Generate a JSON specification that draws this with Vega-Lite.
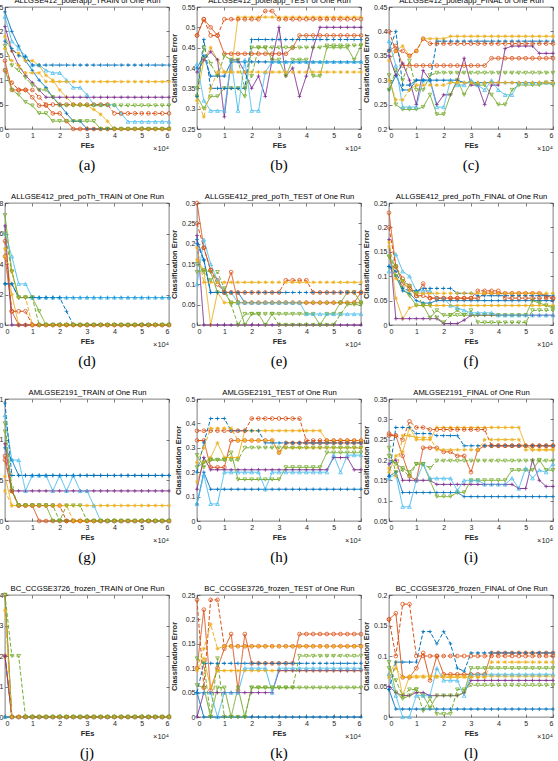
{
"$schema":"https://vega.github.io/schema/vega-lite/v6.json",
"padding":{"left":-22,"top":-4,"right":0,"bottom":0},
"background":"white",
"columns":3,
"spacing":{"row":74,"column":28},
"bounds":"flush",
"config":{
"font":"Liberation Sans",
"view":{"stroke":"#262626","strokeWidth":0.6},
"axis":{"domain":false,"grid":false,"ticks":true,"tickSize":-3,"tickColor":"#262626","tickWidth":0.6,"labelFont":"Liberation Sans","labelFontSize":7,"labelColor":"#262626","labelPadding":5,"titleFont":"Liberation Sans","titleFontSize":7.5,"titleFontWeight":"bold","titleColor":"#262626","titlePadding":3},
"axisTop":{"labels":false,"titleFontWeight":"normal","titleFontSize":7.7,"titleColor":"#000000","titlePadding":2},
"axisRight":{"labels":false},
"title":{"font":"Liberation Serif","fontSize":15,"fontWeight":"normal","color":"#000000","orient":"bottom","offset":5}
},
"datasets":{"d":[
{"p":"a","x":0,"s1":0.24,"s2":0.14,"s3":0.19,"s4":0.21,"s5":0.12,"s6":0.23,"s7":0.18,"s8":0.12,"s9":0.165,"s10":0.17},
{"p":"a","x":0.25,"s1":0.2,"s2":0.08,"s3":0.16,"s4":0.16,"s5":0.08,"s6":0.18,"s7":0.165,"s8":0.095,"s9":0.14,"s10":0.13},
{"p":"a","x":0.5,"s1":0.17,"s2":0.08,"s3":0.155,"s4":0.13,"s5":0.07,"s6":0.165,"s7":0.15,"s8":0.08,"s9":0.13,"s10":0.12},
{"p":"a","x":0.75,"s1":0.14,"s2":0.08,"s3":0.14,"s4":0.11,"s5":0.055,"s6":0.15,"s7":0.148,"s8":0.08,"s9":0.115,"s10":0.105},
{"p":"a","x":1,"s1":0.12,"s2":0.065,"s3":0.14,"s4":0.095,"s5":0.048,"s6":0.131,"s7":0.131,"s8":0.08,"s9":0.115,"s10":0.09},
{"p":"a","x":1.25,"s1":0.1,"s2":0.048,"s3":0.13,"s4":0.08,"s5":0.032,"s6":0.131,"s7":0.131,"s8":0.065,"s9":0.115,"s10":0.08},
{"p":"a","x":1.5,"s1":0.085,"s2":0.048,"s3":0.11,"s4":0.065,"s5":0.032,"s6":0.12,"s7":0.131,"s8":0.05,"s9":0.097,"s10":0.08},
{"p":"a","x":1.75,"s1":0.065,"s2":0.032,"s3":0.1,"s4":0.065,"s5":0.016,"s6":0.115,"s7":0.131,"s8":0.05,"s9":0.097,"s10":0.065},
{"p":"a","x":2,"s1":0.05,"s2":0.032,"s3":0.08,"s4":0.065,"s5":0.016,"s6":0.115,"s7":0.131,"s8":0.05,"s9":0.097,"s10":0.048},
{"p":"a","x":2.25,"s1":0.032,"s2":0.016,"s3":0.065,"s4":0.065,"s5":0.016,"s6":0.1,"s7":0.131,"s8":0.05,"s9":0.097,"s10":0.048},
{"p":"a","x":2.5,"s1":0.016,"s2":0,"s3":0.05,"s4":0.065,"s5":0.016,"s6":0.085,"s7":0.131,"s8":0.05,"s9":0.097,"s10":0.048},
{"p":"a","x":2.75,"s1":0.016,"s2":0,"s3":0.05,"s4":0.065,"s5":0.016,"s6":0.085,"s7":0.131,"s8":0.05,"s9":0.097,"s10":0.048},
{"p":"a","x":3,"s1":0,"s2":0,"s3":0.048,"s4":0.065,"s5":0.016,"s6":0.07,"s7":0.131,"s8":0.05,"s9":0.097,"s10":0.048},
{"p":"a","x":3.25,"s1":0,"s2":0,"s3":0.04,"s4":0.065,"s5":0.016,"s6":0.05,"s7":0.131,"s8":0.05,"s9":0.097,"s10":0.048},
{"p":"a","x":3.5,"s1":0,"s2":0,"s3":0.03,"s4":0.065,"s5":0,"s6":0.05,"s7":0.131,"s8":0.05,"s9":0.097,"s10":0.048},
{"p":"a","x":3.75,"s1":0,"s2":0,"s3":0.016,"s4":0.065,"s5":0,"s6":0.05,"s7":0.131,"s8":0.05,"s9":0.097,"s10":0.048},
{"p":"a","x":4,"s1":0,"s2":0,"s3":0,"s4":0.065,"s5":0,"s6":0.05,"s7":0.131,"s8":0.032,"s9":0.097,"s10":0.048},
{"p":"a","x":4.25,"s1":0,"s2":0,"s3":0,"s4":0.065,"s5":0,"s6":0.032,"s7":0.131,"s8":0.032,"s9":0.097,"s10":0.048},
{"p":"a","x":4.5,"s1":0,"s2":0,"s3":0,"s4":0.065,"s5":0,"s6":0.015,"s7":0.131,"s8":0.032,"s9":0.097,"s10":0.048},
{"p":"a","x":4.75,"s1":0,"s2":0,"s3":0,"s4":0.065,"s5":0,"s6":0.015,"s7":0.131,"s8":0.032,"s9":0.097,"s10":0.048},
{"p":"a","x":5,"s1":0,"s2":0,"s3":0,"s4":0.065,"s5":0,"s6":0.015,"s7":0.131,"s8":0.032,"s9":0.097,"s10":0.048},
{"p":"a","x":5.25,"s1":0,"s2":0,"s3":0,"s4":0.065,"s5":0,"s6":0.015,"s7":0.131,"s8":0.032,"s9":0.097,"s10":0.048},
{"p":"a","x":5.5,"s1":0,"s2":0,"s3":0,"s4":0.065,"s5":0,"s6":0.015,"s7":0.131,"s8":0.032,"s9":0.097,"s10":0.048},
{"p":"a","x":5.75,"s1":0,"s2":0,"s3":0,"s4":0.065,"s5":0,"s6":0.015,"s7":0.131,"s8":0.032,"s9":0.097,"s10":0.048},
{"p":"a","x":6,"s1":0,"s2":0,"s3":0,"s4":0.065,"s5":0,"s6":0.015,"s7":0.131,"s8":0.032,"s9":0.097,"s10":0.048},

{"p":"b","x":0,"s1":0.4,"s2":0.48,"s3":0.33,"s4":0.39,"s5":0.33,"s6":0.41,"s7":0.33,"s8":0.48,"s9":0.32,"s10":0.35},
{"p":"b","x":0.25,"s1":0.43,"s2":0.52,"s3":0.42,"s4":0.42,"s5":0.3,"s6":0.32,"s7":0.47,"s8":0.52,"s9":0.28,"s10":0.45},
{"p":"b","x":0.5,"s1":0.38,"s2":0.5,"s3":0.45,"s4":0.44,"s5":0.33,"s6":0.295,"s7":0.35,"s8":0.48,"s9":0.35,"s10":0.41},
{"p":"b","x":0.75,"s1":0.38,"s2":0.48,"s3":0.42,"s4":0.42,"s5":0.33,"s6":0.295,"s7":0.35,"s8":0.48,"s9":0.39,"s10":0.38},
{"p":"b","x":1,"s1":0.38,"s2":0.435,"s3":0.39,"s4":0.28,"s5":0.35,"s6":0.295,"s7":0.35,"s8":0.52,"s9":0.39,"s10":0.43},
{"p":"b","x":1.25,"s1":0.415,"s2":0.435,"s3":0.39,"s4":0.42,"s5":0.35,"s6":0.42,"s7":0.35,"s8":0.52,"s9":0.39,"s10":0.42},
{"p":"b","x":1.5,"s1":0.415,"s2":0.435,"s3":0.525,"s4":0.42,"s5":0.35,"s6":0.295,"s7":0.35,"s8":0.52,"s9":0.39,"s10":0.42},
{"p":"b","x":1.75,"s1":0.415,"s2":0.435,"s3":0.525,"s4":0.39,"s5":0.33,"s6":0.42,"s7":0.35,"s8":0.52,"s9":0.39,"s10":0.35},
{"p":"b","x":2,"s1":0.415,"s2":0.435,"s3":0.525,"s4":0.35,"s5":0.45,"s6":0.295,"s7":0.47,"s8":0.52,"s9":0.39,"s10":0.38},
{"p":"b","x":2.25,"s1":0.415,"s2":0.435,"s3":0.525,"s4":0.38,"s5":0.45,"s6":0.295,"s7":0.47,"s8":0.52,"s9":0.39,"s10":0.45},
{"p":"b","x":2.5,"s1":0.415,"s2":0.435,"s3":0.525,"s4":0.33,"s5":0.45,"s6":0.39,"s7":0.47,"s8":0.54,"s9":0.39,"s10":0.45},
{"p":"b","x":2.75,"s1":0.415,"s2":0.435,"s3":0.525,"s4":0.42,"s5":0.42,"s6":0.415,"s7":0.47,"s8":0.54,"s9":0.39,"s10":0.45},
{"p":"b","x":3,"s1":0.415,"s2":0.435,"s3":0.525,"s4":0.5,"s5":0.42,"s6":0.415,"s7":0.47,"s8":0.52,"s9":0.39,"s10":0.45},
{"p":"b","x":3.25,"s1":0.415,"s2":0.435,"s3":0.525,"s4":0.38,"s5":0.38,"s6":0.415,"s7":0.47,"s8":0.52,"s9":0.39,"s10":0.45},
{"p":"b","x":3.5,"s1":0.415,"s2":0.45,"s3":0.525,"s4":0.4,"s5":0.42,"s6":0.415,"s7":0.47,"s8":0.52,"s9":0.39,"s10":0.45},
{"p":"b","x":3.75,"s1":0.415,"s2":0.48,"s3":0.525,"s4":0.33,"s5":0.42,"s6":0.415,"s7":0.47,"s8":0.52,"s9":0.39,"s10":0.45},
{"p":"b","x":4,"s1":0.415,"s2":0.48,"s3":0.525,"s4":0.38,"s5":0.42,"s6":0.415,"s7":0.47,"s8":0.52,"s9":0.39,"s10":0.45},
{"p":"b","x":4.25,"s1":0.415,"s2":0.48,"s3":0.525,"s4":0.45,"s5":0.38,"s6":0.415,"s7":0.47,"s8":0.52,"s9":0.39,"s10":0.45},
{"p":"b","x":4.5,"s1":0.415,"s2":0.48,"s3":0.525,"s4":0.5,"s5":0.38,"s6":0.415,"s7":0.47,"s8":0.52,"s9":0.39,"s10":0.45},
{"p":"b","x":4.75,"s1":0.415,"s2":0.48,"s3":0.525,"s4":0.5,"s5":0.45,"s6":0.415,"s7":0.47,"s8":0.52,"s9":0.39,"s10":0.455},
{"p":"b","x":5,"s1":0.415,"s2":0.48,"s3":0.525,"s4":0.5,"s5":0.45,"s6":0.415,"s7":0.47,"s8":0.52,"s9":0.39,"s10":0.455},
{"p":"b","x":5.25,"s1":0.415,"s2":0.48,"s3":0.525,"s4":0.5,"s5":0.45,"s6":0.415,"s7":0.47,"s8":0.52,"s9":0.39,"s10":0.455},
{"p":"b","x":5.5,"s1":0.415,"s2":0.48,"s3":0.525,"s4":0.5,"s5":0.45,"s6":0.415,"s7":0.47,"s8":0.52,"s9":0.39,"s10":0.455},
{"p":"b","x":5.75,"s1":0.415,"s2":0.48,"s3":0.525,"s4":0.5,"s5":0.42,"s6":0.415,"s7":0.47,"s8":0.52,"s9":0.39,"s10":0.455},
{"p":"b","x":6,"s1":0.415,"s2":0.48,"s3":0.525,"s4":0.5,"s5":0.455,"s6":0.415,"s7":0.47,"s8":0.52,"s9":0.39,"s10":0.455},

{"p":"c","x":0,"s1":0.28,"s2":0.36,"s3":0.34,"s4":0.35,"s5":0.31,"s6":0.38,"s7":0.36,"s8":0.4,"s9":0.3,"s10":0.28},
{"p":"c","x":0.25,"s1":0.31,"s2":0.37,"s3":0.36,"s4":0.31,"s5":0.25,"s6":0.33,"s7":0.4,"s8":0.36,"s9":0.26,"s10":0.32},
{"p":"c","x":0.5,"s1":0.28,"s2":0.33,"s3":0.37,"s4":0.335,"s5":0.24,"s6":0.245,"s7":0.29,"s8":0.36,"s9":0.26,"s10":0.3},
{"p":"c","x":0.75,"s1":0.28,"s2":0.33,"s3":0.35,"s4":0.3,"s5":0.24,"s6":0.245,"s7":0.29,"s8":0.35,"s9":0.28,"s10":0.34},
{"p":"c","x":1,"s1":0.3,"s2":0.33,"s3":0.36,"s4":0.25,"s5":0.24,"s6":0.245,"s7":0.3,"s8":0.36,"s9":0.29,"s10":0.28},
{"p":"c","x":1.25,"s1":0.3,"s2":0.33,"s3":0.385,"s4":0.32,"s5":0.245,"s6":0.3,"s7":0.3,"s8":0.385,"s9":0.29,"s10":0.28},
{"p":"c","x":1.5,"s1":0.3,"s2":0.33,"s3":0.385,"s4":0.3,"s5":0.27,"s6":0.3,"s7":0.3,"s8":0.375,"s9":0.29,"s10":0.31},
{"p":"c","x":1.75,"s1":0.3,"s2":0.33,"s3":0.385,"s4":0.25,"s5":0.23,"s6":0.245,"s7":0.38,"s8":0.375,"s9":0.29,"s10":0.315},
{"p":"c","x":2,"s1":0.3,"s2":0.33,"s3":0.385,"s4":0.27,"s5":0.23,"s6":0.245,"s7":0.38,"s8":0.375,"s9":0.29,"s10":0.315},
{"p":"c","x":2.25,"s1":0.3,"s2":0.33,"s3":0.39,"s4":0.27,"s5":0.27,"s6":0.3,"s7":0.38,"s8":0.375,"s9":0.295,"s10":0.315},
{"p":"c","x":2.5,"s1":0.3,"s2":0.33,"s3":0.39,"s4":0.3,"s5":0.3,"s6":0.29,"s7":0.38,"s8":0.375,"s9":0.295,"s10":0.315},
{"p":"c","x":2.75,"s1":0.295,"s2":0.33,"s3":0.39,"s4":0.345,"s5":0.27,"s6":0.29,"s7":0.38,"s8":0.375,"s9":0.295,"s10":0.315},
{"p":"c","x":3,"s1":0.295,"s2":0.33,"s3":0.39,"s4":0.29,"s5":0.295,"s6":0.3,"s7":0.38,"s8":0.375,"s9":0.295,"s10":0.315},
{"p":"c","x":3.25,"s1":0.295,"s2":0.33,"s3":0.39,"s4":0.29,"s5":0.29,"s6":0.29,"s7":0.38,"s8":0.375,"s9":0.295,"s10":0.315},
{"p":"c","x":3.5,"s1":0.295,"s2":0.33,"s3":0.39,"s4":0.25,"s5":0.29,"s6":0.28,"s7":0.38,"s8":0.375,"s9":0.295,"s10":0.315},
{"p":"c","x":3.75,"s1":0.295,"s2":0.345,"s3":0.39,"s4":0.29,"s5":0.27,"s6":0.3,"s7":0.38,"s8":0.375,"s9":0.295,"s10":0.315},
{"p":"c","x":4,"s1":0.295,"s2":0.345,"s3":0.39,"s4":0.29,"s5":0.25,"s6":0.28,"s7":0.38,"s8":0.375,"s9":0.295,"s10":0.315},
{"p":"c","x":4.25,"s1":0.295,"s2":0.345,"s3":0.39,"s4":0.365,"s5":0.25,"s6":0.27,"s7":0.38,"s8":0.375,"s9":0.295,"s10":0.315},
{"p":"c","x":4.5,"s1":0.295,"s2":0.345,"s3":0.39,"s4":0.37,"s5":0.28,"s6":0.27,"s7":0.38,"s8":0.375,"s9":0.295,"s10":0.315},
{"p":"c","x":4.75,"s1":0.295,"s2":0.345,"s3":0.39,"s4":0.37,"s5":0.29,"s6":0.295,"s7":0.38,"s8":0.375,"s9":0.295,"s10":0.315},
{"p":"c","x":5,"s1":0.295,"s2":0.345,"s3":0.39,"s4":0.37,"s5":0.29,"s6":0.295,"s7":0.38,"s8":0.375,"s9":0.295,"s10":0.315},
{"p":"c","x":5.25,"s1":0.295,"s2":0.345,"s3":0.39,"s4":0.37,"s5":0.29,"s6":0.295,"s7":0.38,"s8":0.375,"s9":0.295,"s10":0.315},
{"p":"c","x":5.5,"s1":0.295,"s2":0.345,"s3":0.39,"s4":0.355,"s5":0.29,"s6":0.295,"s7":0.38,"s8":0.375,"s9":0.295,"s10":0.315},
{"p":"c","x":5.75,"s1":0.295,"s2":0.345,"s3":0.39,"s4":0.355,"s5":0.295,"s6":0.295,"s7":0.38,"s8":0.375,"s9":0.295,"s10":0.315},
{"p":"c","x":6,"s1":0.295,"s2":0.345,"s3":0.39,"s4":0.355,"s5":0.29,"s6":0.295,"s7":0.38,"s8":0.375,"s9":0.295,"s10":0.315},

{"p":"d","x":0,"s1":0.027,"s2":0.045,"s3":0.05,"s4":0.065,"s5":0.072,"s6":0.06,"s7":0.027,"s8":0.055,"s9":0.045,"s10":0.06},
{"p":"d","x":0.25,"s1":0.027,"s2":0.009,"s3":0.02,"s4":0,"s5":0.035,"s6":0.045,"s7":0.027,"s8":0.009,"s9":0.035,"s10":0.035},
{"p":"d","x":0.5,"s1":0.018,"s2":0,"s3":0,"s4":0,"s5":0.018,"s6":0.027,"s7":0.018,"s8":0.009,"s9":0.018,"s10":0.018},
{"p":"d","x":0.75,"s1":0.018,"s2":0,"s3":0,"s4":0,"s5":0.018,"s6":0.027,"s7":0.018,"s8":0.009,"s9":0.018,"s10":0.018},
{"p":"d","x":1,"s1":0.018,"s2":0,"s3":0,"s4":0,"s5":0.018,"s6":0.018,"s7":0.018,"s8":0,"s9":0,"s10":0.018},
{"p":"d","x":1.25,"s1":0.018,"s2":0,"s3":0,"s4":0,"s5":0.009,"s6":0.018,"s7":0.018,"s8":0,"s9":0,"s10":0},
{"p":"d","x":1.5,"s1":0.018,"s2":0,"s3":0,"s4":0,"s5":0,"s6":0.018,"s7":0.018,"s8":0,"s9":0,"s10":0},
{"p":"d","x":1.75,"s1":0.018,"s2":0,"s3":0,"s4":0,"s5":0,"s6":0.018,"s7":0.018,"s8":0,"s9":0,"s10":0},
{"p":"d","x":2,"s1":0.018,"s2":0,"s3":0,"s4":0,"s5":0,"s6":0.018,"s7":0.018,"s8":0,"s9":0,"s10":0},
{"p":"d","x":2.25,"s1":0.018,"s2":0,"s3":0,"s4":0,"s5":0,"s6":0.018,"s7":0.009,"s8":0,"s9":0,"s10":0},
{"p":"d","x":2.5,"s1":0.018,"s2":0,"s3":0,"s4":0,"s5":0,"s6":0.018,"s7":0,"s8":0,"s9":0,"s10":0},
{"p":"d","x":2.75,"s1":0.018,"s2":0,"s3":0,"s4":0,"s5":0,"s6":0.018,"s7":0,"s8":0,"s9":0,"s10":0},
{"p":"d","x":3,"s1":0.018,"s2":0,"s3":0,"s4":0,"s5":0,"s6":0.018,"s7":0,"s8":0,"s9":0,"s10":0},
{"p":"d","x":3.25,"s1":0.018,"s2":0,"s3":0,"s4":0,"s5":0,"s6":0.018,"s7":0,"s8":0,"s9":0,"s10":0},
{"p":"d","x":3.5,"s1":0.018,"s2":0,"s3":0,"s4":0,"s5":0,"s6":0.018,"s7":0,"s8":0,"s9":0,"s10":0},
{"p":"d","x":3.75,"s1":0.018,"s2":0,"s3":0,"s4":0,"s5":0,"s6":0.018,"s7":0,"s8":0,"s9":0,"s10":0},
{"p":"d","x":4,"s1":0.018,"s2":0,"s3":0,"s4":0,"s5":0,"s6":0.018,"s7":0,"s8":0,"s9":0,"s10":0},
{"p":"d","x":4.25,"s1":0.018,"s2":0,"s3":0,"s4":0,"s5":0,"s6":0.018,"s7":0,"s8":0,"s9":0,"s10":0},
{"p":"d","x":4.5,"s1":0.018,"s2":0,"s3":0,"s4":0,"s5":0,"s6":0.018,"s7":0,"s8":0,"s9":0,"s10":0},
{"p":"d","x":4.75,"s1":0.018,"s2":0,"s3":0,"s4":0,"s5":0,"s6":0.018,"s7":0,"s8":0,"s9":0,"s10":0},
{"p":"d","x":5,"s1":0.018,"s2":0,"s3":0,"s4":0,"s5":0,"s6":0.018,"s7":0,"s8":0,"s9":0,"s10":0},
{"p":"d","x":5.25,"s1":0.018,"s2":0,"s3":0,"s4":0,"s5":0,"s6":0.018,"s7":0,"s8":0,"s9":0,"s10":0},
{"p":"d","x":5.5,"s1":0.018,"s2":0,"s3":0,"s4":0,"s5":0,"s6":0.018,"s7":0,"s8":0,"s9":0,"s10":0},
{"p":"d","x":5.75,"s1":0.018,"s2":0,"s3":0,"s4":0,"s5":0,"s6":0.018,"s7":0,"s8":0,"s9":0,"s10":0},
{"p":"d","x":6,"s1":0.018,"s2":0,"s3":0,"s4":0,"s5":0,"s6":0.018,"s7":0,"s8":0,"s9":0,"s10":0},

{"p":"e","x":0,"s1":0.21,"s2":0.3,"s3":0.16,"s4":0.22,"s5":0.13,"s6":0.1,"s7":0.2,"s8":0.25,"s9":0.19,"s10":0.15},
{"p":"e","x":0.25,"s1":0.16,"s2":0.19,"s3":0.135,"s4":0,"s5":0.135,"s6":0.21,"s7":0.16,"s8":0.19,"s9":0.105,"s10":0.13},
{"p":"e","x":0.5,"s1":0.08,"s2":0.135,"s3":0,"s4":0,"s5":0.13,"s6":0.15,"s7":0.08,"s8":0.135,"s9":0.105,"s10":0.11},
{"p":"e","x":0.75,"s1":0.08,"s2":0.11,"s3":0.08,"s4":0,"s5":0.08,"s6":0.11,"s7":0.08,"s8":0.1,"s9":0.105,"s10":0.13},
{"p":"e","x":1,"s1":0.08,"s2":0.08,"s3":0.055,"s4":0,"s5":0.08,"s6":0.08,"s7":0.08,"s8":0.08,"s9":0.105,"s10":0.09},
{"p":"e","x":1.25,"s1":0.08,"s2":0.13,"s3":0.055,"s4":0,"s5":0.055,"s6":0.08,"s7":0.08,"s8":0.08,"s9":0.105,"s10":0.05},
{"p":"e","x":1.5,"s1":0.08,"s2":0.055,"s3":0.055,"s4":0,"s5":0.055,"s6":0.055,"s7":0.08,"s8":0.08,"s9":0.105,"s10":0},
{"p":"e","x":1.75,"s1":0.055,"s2":0.055,"s3":0.055,"s4":0,"s5":0,"s6":0.055,"s7":0.08,"s8":0.08,"s9":0.105,"s10":0.027},
{"p":"e","x":2,"s1":0.055,"s2":0.055,"s3":0.055,"s4":0,"s5":0.027,"s6":0.055,"s7":0.08,"s8":0.08,"s9":0.105,"s10":0.027},
{"p":"e","x":2.25,"s1":0.055,"s2":0.055,"s3":0.055,"s4":0,"s5":0.027,"s6":0.055,"s7":0.08,"s8":0.08,"s9":0.105,"s10":0.027},
{"p":"e","x":2.5,"s1":0.055,"s2":0.055,"s3":0.055,"s4":0,"s5":0,"s6":0.055,"s7":0.08,"s8":0.08,"s9":0.105,"s10":0.027},
{"p":"e","x":2.75,"s1":0.055,"s2":0.055,"s3":0.055,"s4":0,"s5":0.027,"s6":0.055,"s7":0.08,"s8":0.08,"s9":0.105,"s10":0.027},
{"p":"e","x":3,"s1":0.055,"s2":0.055,"s3":0.055,"s4":0,"s5":0.027,"s6":0.055,"s7":0.08,"s8":0.08,"s9":0.105,"s10":0},
{"p":"e","x":3.25,"s1":0.055,"s2":0.055,"s3":0.055,"s4":0,"s5":0.027,"s6":0.055,"s7":0.08,"s8":0.11,"s9":0.105,"s10":0},
{"p":"e","x":3.5,"s1":0.055,"s2":0.055,"s3":0.055,"s4":0,"s5":0.027,"s6":0.055,"s7":0.08,"s8":0.11,"s9":0.105,"s10":0},
{"p":"e","x":3.75,"s1":0.055,"s2":0.055,"s3":0.055,"s4":0,"s5":0.027,"s6":0.055,"s7":0.08,"s8":0.11,"s9":0.105,"s10":0},
{"p":"e","x":4,"s1":0.055,"s2":0.055,"s3":0.055,"s4":0,"s5":0.027,"s6":0.027,"s7":0.08,"s8":0.11,"s9":0.105,"s10":0},
{"p":"e","x":4.25,"s1":0.055,"s2":0.055,"s3":0.055,"s4":0,"s5":0.027,"s6":0.027,"s7":0.08,"s8":0.08,"s9":0.105,"s10":0},
{"p":"e","x":4.5,"s1":0.055,"s2":0.055,"s3":0.055,"s4":0,"s5":0,"s6":0.027,"s7":0.08,"s8":0.08,"s9":0.105,"s10":0},
{"p":"e","x":4.75,"s1":0.055,"s2":0.055,"s3":0.055,"s4":0,"s5":0.027,"s6":0.027,"s7":0.08,"s8":0.08,"s9":0.105,"s10":0},
{"p":"e","x":5,"s1":0.055,"s2":0.055,"s3":0.055,"s4":0,"s5":0.027,"s6":0.027,"s7":0.08,"s8":0.08,"s9":0.105,"s10":0},
{"p":"e","x":5.25,"s1":0.055,"s2":0.055,"s3":0.055,"s4":0,"s5":0.055,"s6":0.027,"s7":0.08,"s8":0.08,"s9":0.105,"s10":0.027},
{"p":"e","x":5.5,"s1":0.055,"s2":0.055,"s3":0.055,"s4":0,"s5":0.08,"s6":0.027,"s7":0.08,"s8":0.08,"s9":0.105,"s10":0.05},
{"p":"e","x":5.75,"s1":0.055,"s2":0.055,"s3":0.055,"s4":0,"s5":0.08,"s6":0.027,"s7":0.08,"s8":0.08,"s9":0.105,"s10":0.05},
{"p":"e","x":6,"s1":0.055,"s2":0.08,"s3":0.055,"s4":0,"s5":0.055,"s6":0.027,"s7":0.08,"s8":0.08,"s9":0.105,"s10":0.05},

{"p":"f","x":0,"s1":0.12,"s2":0.23,"s3":0.16,"s4":0.175,"s5":0.14,"s6":0.11,"s7":0.12,"s8":0.2,"s9":0.17,"s10":0.14},
{"p":"f","x":0.25,"s1":0.1,"s2":0.12,"s3":0.055,"s4":0.013,"s5":0.1,"s6":0.145,"s7":0.11,"s8":0.12,"s9":0.095,"s10":0.12},
{"p":"f","x":0.5,"s1":0.07,"s2":0.085,"s3":0.013,"s4":0.013,"s5":0.075,"s6":0.11,"s7":0.075,"s8":0.095,"s9":0.09,"s10":0.09},
{"p":"f","x":0.75,"s1":0.065,"s2":0.075,"s3":0.035,"s4":0.013,"s5":0.06,"s6":0.1,"s7":0.07,"s8":0.08,"s9":0.07,"s10":0.08},
{"p":"f","x":1,"s1":0.05,"s2":0.06,"s3":0.04,"s4":0.013,"s5":0.04,"s6":0.07,"s7":0.07,"s8":0.06,"s9":0.065,"s10":0.065},
{"p":"f","x":1.25,"s1":0.045,"s2":0.085,"s3":0.04,"s4":0.013,"s5":0.04,"s6":0.07,"s7":0.075,"s8":0.06,"s9":0.065,"s10":0.04},
{"p":"f","x":1.5,"s1":0.045,"s2":0.055,"s3":0.04,"s4":0.013,"s5":0.015,"s6":0.07,"s7":0.075,"s8":0.055,"s9":0.065,"s10":0.04},
{"p":"f","x":1.75,"s1":0.05,"s2":0.055,"s3":0.04,"s4":0.013,"s5":0.03,"s6":0.055,"s7":0.075,"s8":0.055,"s9":0.065,"s10":0.015},
{"p":"f","x":2,"s1":0.05,"s2":0.055,"s3":0.04,"s4":0.003,"s5":0.02,"s6":0.055,"s7":0.075,"s8":0.055,"s9":0.065,"s10":0.005},
{"p":"f","x":2.25,"s1":0.05,"s2":0.055,"s3":0.04,"s4":0.003,"s5":0.02,"s6":0.04,"s7":0.075,"s8":0.055,"s9":0.065,"s10":0.02},
{"p":"f","x":2.5,"s1":0.05,"s2":0.055,"s3":0.04,"s4":0.003,"s5":0.03,"s6":0.035,"s7":0.065,"s8":0.055,"s9":0.065,"s10":0.02},
{"p":"f","x":2.75,"s1":0.05,"s2":0.055,"s3":0.04,"s4":0.01,"s5":0.02,"s6":0.03,"s7":0.065,"s8":0.055,"s9":0.065,"s10":0.02},
{"p":"f","x":3,"s1":0.05,"s2":0.055,"s3":0.04,"s4":0.02,"s5":0.02,"s6":0.025,"s7":0.065,"s8":0.055,"s9":0.065,"s10":0.03},
{"p":"f","x":3.25,"s1":0.05,"s2":0.055,"s3":0.04,"s4":0.02,"s5":0.02,"s6":0.025,"s7":0.06,"s8":0.07,"s9":0.065,"s10":0.005},
{"p":"f","x":3.5,"s1":0.05,"s2":0.065,"s3":0.04,"s4":0.02,"s5":0.02,"s6":0.025,"s7":0.06,"s8":0.07,"s9":0.065,"s10":0.005},
{"p":"f","x":3.75,"s1":0.05,"s2":0.065,"s3":0.04,"s4":0.02,"s5":0.02,"s6":0.025,"s7":0.06,"s8":0.07,"s9":0.065,"s10":0.005},
{"p":"f","x":4,"s1":0.05,"s2":0.065,"s3":0.04,"s4":0.02,"s5":0.02,"s6":0.02,"s7":0.06,"s8":0.07,"s9":0.065,"s10":0.005},
{"p":"f","x":4.25,"s1":0.05,"s2":0.065,"s3":0.04,"s4":0.02,"s5":0.02,"s6":0.02,"s7":0.06,"s8":0.055,"s9":0.065,"s10":0.005},
{"p":"f","x":4.5,"s1":0.05,"s2":0.065,"s3":0.04,"s4":0.02,"s5":0.02,"s6":0.02,"s7":0.06,"s8":0.055,"s9":0.065,"s10":0.005},
{"p":"f","x":4.75,"s1":0.05,"s2":0.065,"s3":0.04,"s4":0.02,"s5":0.02,"s6":0.02,"s7":0.06,"s8":0.055,"s9":0.065,"s10":0.005},
{"p":"f","x":5,"s1":0.05,"s2":0.065,"s3":0.04,"s4":0.02,"s5":0.02,"s6":0.02,"s7":0.06,"s8":0.055,"s9":0.065,"s10":0.005},
{"p":"f","x":5.25,"s1":0.05,"s2":0.065,"s3":0.04,"s4":0.02,"s5":0.05,"s6":0.02,"s7":0.06,"s8":0.055,"s9":0.065,"s10":0.03},
{"p":"f","x":5.5,"s1":0.05,"s2":0.065,"s3":0.04,"s4":0.02,"s5":0.045,"s6":0.02,"s7":0.06,"s8":0.055,"s9":0.065,"s10":0.03},
{"p":"f","x":5.75,"s1":0.05,"s2":0.06,"s3":0.04,"s4":0.02,"s5":0.04,"s6":0.02,"s7":0.06,"s8":0.055,"s9":0.065,"s10":0.03},
{"p":"f","x":6,"s1":0.05,"s2":0.055,"s3":0.04,"s4":0.02,"s5":0.035,"s6":0.02,"s7":0.06,"s8":0.055,"s9":0.065,"s10":0.03},

{"p":"g","x":0,"s1":0.09,"s2":0.075,"s3":0.055,"s4":0.095,"s5":0.11,"s6":0.13,"s7":0.145,"s8":0.08,"s9":0.037,"s10":0.12},
{"p":"g","x":0.25,"s1":0.075,"s2":0.037,"s3":0.019,"s4":0.037,"s5":0.037,"s6":0.075,"s7":0.056,"s8":0.037,"s9":0.019,"s10":0.04},
{"p":"g","x":0.5,"s1":0.056,"s2":0.019,"s3":0.019,"s4":0.037,"s5":0.019,"s6":0.075,"s7":0.056,"s8":0.019,"s9":0.019,"s10":0.019},
{"p":"g","x":0.75,"s1":0.056,"s2":0.019,"s3":0.019,"s4":0.037,"s5":0.019,"s6":0.037,"s7":0.056,"s8":0.019,"s9":0.019,"s10":0.019},
{"p":"g","x":1,"s1":0.056,"s2":0.019,"s3":0.019,"s4":0.037,"s5":0.019,"s6":0.056,"s7":0.056,"s8":0.019,"s9":0.019,"s10":0.019},
{"p":"g","x":1.25,"s1":0.056,"s2":0,"s3":0.019,"s4":0.037,"s5":0.019,"s6":0.056,"s7":0.056,"s8":0.019,"s9":0.019,"s10":0.019},
{"p":"g","x":1.5,"s1":0.056,"s2":0,"s3":0.019,"s4":0.037,"s5":0.019,"s6":0.056,"s7":0.056,"s8":0.019,"s9":0.019,"s10":0.019},
{"p":"g","x":1.75,"s1":0.056,"s2":0,"s3":0.019,"s4":0.037,"s5":0,"s6":0.037,"s7":0.056,"s8":0.019,"s9":0.019,"s10":0.019},
{"p":"g","x":2,"s1":0.056,"s2":0,"s3":0.019,"s4":0.037,"s5":0,"s6":0.056,"s7":0.056,"s8":0.019,"s9":0.019,"s10":0},
{"p":"g","x":2.25,"s1":0.056,"s2":0,"s3":0.019,"s4":0.037,"s5":0,"s6":0.037,"s7":0.056,"s8":0,"s9":0.019,"s10":0.019},
{"p":"g","x":2.5,"s1":0.056,"s2":0,"s3":0.019,"s4":0.037,"s5":0,"s6":0.056,"s7":0.056,"s8":0,"s9":0,"s10":0.019},
{"p":"g","x":2.75,"s1":0.056,"s2":0,"s3":0.019,"s4":0.037,"s5":0,"s6":0.037,"s7":0.056,"s8":0,"s9":0,"s10":0.019},
{"p":"g","x":3,"s1":0.056,"s2":0,"s3":0.019,"s4":0.037,"s5":0,"s6":0.037,"s7":0.056,"s8":0,"s9":0,"s10":0},
{"p":"g","x":3.25,"s1":0.056,"s2":0,"s3":0.019,"s4":0.037,"s5":0,"s6":0.019,"s7":0.056,"s8":0,"s9":0,"s10":0},
{"p":"g","x":3.5,"s1":0.056,"s2":0,"s3":0.019,"s4":0.037,"s5":0,"s6":0,"s7":0.056,"s8":0,"s9":0,"s10":0},
{"p":"g","x":3.75,"s1":0.056,"s2":0,"s3":0.019,"s4":0.037,"s5":0,"s6":0,"s7":0.056,"s8":0,"s9":0,"s10":0},
{"p":"g","x":4,"s1":0.056,"s2":0,"s3":0.019,"s4":0.037,"s5":0,"s6":0,"s7":0.056,"s8":0,"s9":0,"s10":0},
{"p":"g","x":4.25,"s1":0.056,"s2":0,"s3":0.019,"s4":0.037,"s5":0,"s6":0,"s7":0.056,"s8":0,"s9":0,"s10":0},
{"p":"g","x":4.5,"s1":0.056,"s2":0,"s3":0.019,"s4":0.037,"s5":0,"s6":0,"s7":0.056,"s8":0,"s9":0,"s10":0},
{"p":"g","x":4.75,"s1":0.056,"s2":0,"s3":0.019,"s4":0.037,"s5":0,"s6":0,"s7":0.056,"s8":0,"s9":0,"s10":0},
{"p":"g","x":5,"s1":0.056,"s2":0,"s3":0.019,"s4":0.037,"s5":0,"s6":0,"s7":0.056,"s8":0,"s9":0,"s10":0},
{"p":"g","x":5.25,"s1":0.056,"s2":0,"s3":0.019,"s4":0.037,"s5":0,"s6":0,"s7":0.056,"s8":0,"s9":0,"s10":0},
{"p":"g","x":5.5,"s1":0.056,"s2":0,"s3":0.019,"s4":0.037,"s5":0,"s6":0,"s7":0.056,"s8":0,"s9":0,"s10":0},
{"p":"g","x":5.75,"s1":0.056,"s2":0,"s3":0.019,"s4":0.037,"s5":0,"s6":0,"s7":0.056,"s8":0,"s9":0,"s10":0},
{"p":"g","x":6,"s1":0.056,"s2":0,"s3":0.019,"s4":0.037,"s5":0,"s6":0,"s7":0.056,"s8":0,"s9":0,"s10":0},

{"p":"h","x":0,"s1":0.07,"s2":0.33,"s3":0.16,"s4":0.13,"s5":0.22,"s6":0.07,"s7":0.2,"s8":0.37,"s9":0.24,"s10":0.27},
{"p":"h","x":0.25,"s1":0.2,"s2":0.33,"s3":0.24,"s4":0.26,"s5":0.24,"s6":0.19,"s7":0.32,"s8":0.37,"s9":0.3,"s10":0.22},
{"p":"h","x":0.5,"s1":0.13,"s2":0.22,"s3":0.26,"s4":0.21,"s5":0.25,"s6":0.07,"s7":0.42,"s8":0.37,"s9":0.38,"s10":0.25},
{"p":"h","x":0.75,"s1":0.13,"s2":0.22,"s3":0.32,"s4":0.21,"s5":0.25,"s6":0.07,"s7":0.42,"s8":0.37,"s9":0.38,"s10":0.25},
{"p":"h","x":1,"s1":0.13,"s2":0.22,"s3":0.26,"s4":0.21,"s5":0.25,"s6":0.2,"s7":0.42,"s8":0.37,"s9":0.38,"s10":0.25},
{"p":"h","x":1.25,"s1":0.13,"s2":0.33,"s3":0.26,"s4":0.21,"s5":0.28,"s6":0.2,"s7":0.37,"s8":0.37,"s9":0.38,"s10":0.25},
{"p":"h","x":1.5,"s1":0.13,"s2":0.33,"s3":0.26,"s4":0.21,"s5":0.17,"s6":0.2,"s7":0.37,"s8":0.37,"s9":0.33,"s10":0.25},
{"p":"h","x":1.75,"s1":0.13,"s2":0.33,"s3":0.37,"s4":0.21,"s5":0.17,"s6":0.2,"s7":0.37,"s8":0.37,"s9":0.33,"s10":0.3},
{"p":"h","x":2,"s1":0.13,"s2":0.33,"s3":0.37,"s4":0.21,"s5":0.17,"s6":0.2,"s7":0.37,"s8":0.42,"s9":0.33,"s10":0.3},
{"p":"h","x":2.25,"s1":0.13,"s2":0.33,"s3":0.37,"s4":0.21,"s5":0.17,"s6":0.2,"s7":0.37,"s8":0.42,"s9":0.33,"s10":0.3},
{"p":"h","x":2.5,"s1":0.13,"s2":0.33,"s3":0.37,"s4":0.21,"s5":0.17,"s6":0.13,"s7":0.32,"s8":0.42,"s9":0.33,"s10":0.3},
{"p":"h","x":2.75,"s1":0.13,"s2":0.33,"s3":0.37,"s4":0.21,"s5":0.17,"s6":0.2,"s7":0.32,"s8":0.42,"s9":0.33,"s10":0.3},
{"p":"h","x":3,"s1":0.13,"s2":0.28,"s3":0.37,"s4":0.21,"s5":0.17,"s6":0.2,"s7":0.32,"s8":0.42,"s9":0.28,"s10":0.3},
{"p":"h","x":3.25,"s1":0.13,"s2":0.32,"s3":0.37,"s4":0.21,"s5":0.22,"s6":0.2,"s7":0.32,"s8":0.42,"s9":0.3,"s10":0.3},
{"p":"h","x":3.5,"s1":0.13,"s2":0.32,"s3":0.37,"s4":0.21,"s5":0.22,"s6":0.2,"s7":0.32,"s8":0.42,"s9":0.3,"s10":0.3},
{"p":"h","x":3.75,"s1":0.13,"s2":0.32,"s3":0.37,"s4":0.21,"s5":0.22,"s6":0.2,"s7":0.32,"s8":0.42,"s9":0.3,"s10":0.3},
{"p":"h","x":4,"s1":0.13,"s2":0.32,"s3":0.37,"s4":0.21,"s5":0.22,"s6":0.2,"s7":0.32,"s8":0.33,"s9":0.3,"s10":0.3},
{"p":"h","x":4.25,"s1":0.13,"s2":0.32,"s3":0.37,"s4":0.21,"s5":0.22,"s6":0.2,"s7":0.32,"s8":0.33,"s9":0.3,"s10":0.3},
{"p":"h","x":4.5,"s1":0.13,"s2":0.32,"s3":0.37,"s4":0.21,"s5":0.22,"s6":0.2,"s7":0.32,"s8":0.33,"s9":0.3,"s10":0.3},
{"p":"h","x":4.75,"s1":0.13,"s2":0.32,"s3":0.33,"s4":0.21,"s5":0.28,"s6":0.2,"s7":0.32,"s8":0.33,"s9":0.3,"s10":0.3},
{"p":"h","x":5,"s1":0.13,"s2":0.32,"s3":0.33,"s4":0.26,"s5":0.28,"s6":0.27,"s7":0.32,"s8":0.33,"s9":0.3,"s10":0.3},
{"p":"h","x":5.25,"s1":0.13,"s2":0.32,"s3":0.33,"s4":0.26,"s5":0.28,"s6":0.2,"s7":0.32,"s8":0.33,"s9":0.3,"s10":0.3},
{"p":"h","x":5.5,"s1":0.13,"s2":0.32,"s3":0.33,"s4":0.26,"s5":0.28,"s6":0.27,"s7":0.32,"s8":0.33,"s9":0.3,"s10":0.3},
{"p":"h","x":5.75,"s1":0.13,"s2":0.32,"s3":0.33,"s4":0.21,"s5":0.28,"s6":0.27,"s7":0.32,"s8":0.33,"s9":0.3,"s10":0.3},
{"p":"h","x":6,"s1":0.13,"s2":0.32,"s3":0.33,"s4":0.21,"s5":0.28,"s6":0.27,"s7":0.32,"s8":0.33,"s9":0.3,"s10":0.3},

{"p":"i","x":0,"s1":0.16,"s2":0.26,"s3":0.17,"s4":0.19,"s5":0.21,"s6":0.155,"s7":0.16,"s8":0.265,"s9":0.18,"s10":0.23},
{"p":"i","x":0.25,"s1":0.17,"s2":0.26,"s3":0.21,"s4":0.2,"s5":0.19,"s6":0.165,"s7":0.28,"s8":0.26,"s9":0.16,"s10":0.17},
{"p":"i","x":0.5,"s1":0.12,"s2":0.21,"s3":0.22,"s4":0.15,"s5":0.18,"s6":0.085,"s7":0.28,"s8":0.25,"s9":0.26,"s10":0.175},
{"p":"i","x":0.75,"s1":0.12,"s2":0.16,"s3":0.28,"s4":0.15,"s5":0.17,"s6":0.085,"s7":0.28,"s8":0.295,"s9":0.26,"s10":0.16},
{"p":"i","x":1,"s1":0.12,"s2":0.15,"s3":0.25,"s4":0.15,"s5":0.19,"s6":0.15,"s7":0.265,"s8":0.28,"s9":0.255,"s10":0.19},
{"p":"i","x":1.25,"s1":0.12,"s2":0.23,"s3":0.25,"s4":0.15,"s5":0.19,"s6":0.19,"s7":0.265,"s8":0.28,"s9":0.255,"s10":0.19},
{"p":"i","x":1.5,"s1":0.12,"s2":0.23,"s3":0.25,"s4":0.15,"s5":0.15,"s6":0.155,"s7":0.265,"s8":0.275,"s9":0.255,"s10":0.18},
{"p":"i","x":1.75,"s1":0.12,"s2":0.23,"s3":0.28,"s4":0.14,"s5":0.11,"s6":0.155,"s7":0.26,"s8":0.275,"s9":0.225,"s10":0.198},
{"p":"i","x":2,"s1":0.12,"s2":0.22,"s3":0.28,"s4":0.14,"s5":0.11,"s6":0.155,"s7":0.26,"s8":0.275,"s9":0.225,"s10":0.198},
{"p":"i","x":2.25,"s1":0.12,"s2":0.22,"s3":0.28,"s4":0.14,"s5":0.11,"s6":0.155,"s7":0.26,"s8":0.275,"s9":0.225,"s10":0.198},
{"p":"i","x":2.5,"s1":0.12,"s2":0.21,"s3":0.28,"s4":0.14,"s5":0.12,"s6":0.125,"s7":0.26,"s8":0.275,"s9":0.225,"s10":0.198},
{"p":"i","x":2.75,"s1":0.11,"s2":0.21,"s3":0.28,"s4":0.14,"s5":0.12,"s6":0.15,"s7":0.235,"s8":0.275,"s9":0.225,"s10":0.198},
{"p":"i","x":3,"s1":0.11,"s2":0.17,"s3":0.28,"s4":0.14,"s5":0.15,"s6":0.15,"s7":0.235,"s8":0.275,"s9":0.225,"s10":0.198},
{"p":"i","x":3.25,"s1":0.11,"s2":0.225,"s3":0.28,"s4":0.14,"s5":0.15,"s6":0.15,"s7":0.235,"s8":0.275,"s9":0.225,"s10":0.198},
{"p":"i","x":3.5,"s1":0.11,"s2":0.235,"s3":0.28,"s4":0.14,"s5":0.15,"s6":0.14,"s7":0.235,"s8":0.275,"s9":0.25,"s10":0.198},
{"p":"i","x":3.75,"s1":0.11,"s2":0.235,"s3":0.28,"s4":0.14,"s5":0.15,"s6":0.14,"s7":0.235,"s8":0.235,"s9":0.25,"s10":0.198},
{"p":"i","x":4,"s1":0.11,"s2":0.235,"s3":0.28,"s4":0.14,"s5":0.15,"s6":0.14,"s7":0.235,"s8":0.235,"s9":0.25,"s10":0.198},
{"p":"i","x":4.25,"s1":0.11,"s2":0.235,"s3":0.28,"s4":0.14,"s5":0.15,"s6":0.14,"s7":0.235,"s8":0.235,"s9":0.25,"s10":0.198},
{"p":"i","x":4.5,"s1":0.11,"s2":0.235,"s3":0.28,"s4":0.14,"s5":0.175,"s6":0.155,"s7":0.235,"s8":0.235,"s9":0.25,"s10":0.198},
{"p":"i","x":4.75,"s1":0.11,"s2":0.235,"s3":0.28,"s4":0.13,"s5":0.175,"s6":0.13,"s7":0.235,"s8":0.235,"s9":0.25,"s10":0.198},
{"p":"i","x":5,"s1":0.11,"s2":0.235,"s3":0.235,"s4":0.13,"s5":0.175,"s6":0.18,"s7":0.235,"s8":0.235,"s9":0.225,"s10":0.198},
{"p":"i","x":5.25,"s1":0.11,"s2":0.235,"s3":0.225,"s4":0.2,"s5":0.175,"s6":0.155,"s7":0.235,"s8":0.235,"s9":0.225,"s10":0.198},
{"p":"i","x":5.5,"s1":0.11,"s2":0.235,"s3":0.225,"s4":0.15,"s5":0.2,"s6":0.175,"s7":0.235,"s8":0.235,"s9":0.225,"s10":0.198},
{"p":"i","x":5.75,"s1":0.11,"s2":0.235,"s3":0.225,"s4":0.135,"s5":0.175,"s6":0.17,"s7":0.235,"s8":0.235,"s9":0.225,"s10":0.198},
{"p":"i","x":6,"s1":0.11,"s2":0.235,"s3":0.225,"s4":0.135,"s5":0.175,"s6":0.19,"s7":0.235,"s8":0.235,"s9":0.225,"s10":0.198},

{"p":"j","x":0,"s1":0.02,"s2":0.04,"s3":0,"s4":0.02,"s5":0.04,"s6":0,"s7":0,"s8":0.02,"s9":0.035,"s10":0.04},
{"p":"j","x":0.25,"s1":0,"s2":0,"s3":0,"s4":0,"s5":0,"s6":0,"s7":0,"s8":0,"s9":0,"s10":0.02},
{"p":"j","x":0.5,"s1":0,"s2":0,"s3":0,"s4":0,"s5":0,"s6":0,"s7":0,"s8":0,"s9":0,"s10":0.02},
{"p":"j","x":0.75,"s1":0,"s2":0,"s3":0,"s4":0,"s5":0,"s6":0,"s7":0,"s8":0,"s9":0,"s10":0},
{"p":"j","x":1,"s1":0,"s2":0,"s3":0,"s4":0,"s5":0,"s6":0,"s7":0,"s8":0,"s9":0,"s10":0},
{"p":"j","x":1.25,"s1":0,"s2":0,"s3":0,"s4":0,"s5":0,"s6":0,"s7":0,"s8":0,"s9":0,"s10":0},
{"p":"j","x":1.5,"s1":0,"s2":0,"s3":0,"s4":0,"s5":0,"s6":0,"s7":0,"s8":0,"s9":0,"s10":0},
{"p":"j","x":1.75,"s1":0,"s2":0,"s3":0,"s4":0,"s5":0,"s6":0,"s7":0,"s8":0,"s9":0,"s10":0},
{"p":"j","x":2,"s1":0,"s2":0,"s3":0,"s4":0,"s5":0,"s6":0,"s7":0,"s8":0,"s9":0,"s10":0},
{"p":"j","x":2.25,"s1":0,"s2":0,"s3":0,"s4":0,"s5":0,"s6":0,"s7":0,"s8":0,"s9":0,"s10":0},
{"p":"j","x":2.5,"s1":0,"s2":0,"s3":0,"s4":0,"s5":0,"s6":0,"s7":0,"s8":0,"s9":0,"s10":0},
{"p":"j","x":2.75,"s1":0,"s2":0,"s3":0,"s4":0,"s5":0,"s6":0,"s7":0,"s8":0,"s9":0,"s10":0},
{"p":"j","x":3,"s1":0,"s2":0,"s3":0,"s4":0,"s5":0,"s6":0,"s7":0,"s8":0,"s9":0,"s10":0},
{"p":"j","x":3.25,"s1":0,"s2":0,"s3":0,"s4":0,"s5":0,"s6":0,"s7":0,"s8":0,"s9":0,"s10":0},
{"p":"j","x":3.5,"s1":0,"s2":0,"s3":0,"s4":0,"s5":0,"s6":0,"s7":0,"s8":0,"s9":0,"s10":0},
{"p":"j","x":3.75,"s1":0,"s2":0,"s3":0,"s4":0,"s5":0,"s6":0,"s7":0,"s8":0,"s9":0,"s10":0},
{"p":"j","x":4,"s1":0,"s2":0,"s3":0,"s4":0,"s5":0,"s6":0,"s7":0,"s8":0,"s9":0,"s10":0},
{"p":"j","x":4.25,"s1":0,"s2":0,"s3":0,"s4":0,"s5":0,"s6":0,"s7":0,"s8":0,"s9":0,"s10":0},
{"p":"j","x":4.5,"s1":0,"s2":0,"s3":0,"s4":0,"s5":0,"s6":0,"s7":0,"s8":0,"s9":0,"s10":0},
{"p":"j","x":4.75,"s1":0,"s2":0,"s3":0,"s4":0,"s5":0,"s6":0,"s7":0,"s8":0,"s9":0,"s10":0},
{"p":"j","x":5,"s1":0,"s2":0,"s3":0,"s4":0,"s5":0,"s6":0,"s7":0,"s8":0,"s9":0,"s10":0},
{"p":"j","x":5.25,"s1":0,"s2":0,"s3":0,"s4":0,"s5":0,"s6":0,"s7":0,"s8":0,"s9":0,"s10":0},
{"p":"j","x":5.5,"s1":0,"s2":0,"s3":0,"s4":0,"s5":0,"s6":0,"s7":0,"s8":0,"s9":0,"s10":0},
{"p":"j","x":5.75,"s1":0,"s2":0,"s3":0,"s4":0,"s5":0,"s6":0,"s7":0,"s8":0,"s9":0,"s10":0},
{"p":"j","x":6,"s1":0,"s2":0,"s3":0,"s4":0,"s5":0,"s6":0,"s7":0,"s8":0,"s9":0,"s10":0},

{"p":"k","x":0,"s1":0.05,"s2":0.1,"s3":0.095,"s4":0,"s5":0.065,"s6":0.05,"s7":0.05,"s8":0.24,"s9":0.1,"s10":0.12},
{"p":"k","x":0.25,"s1":0,"s2":0.22,"s3":0.12,"s4":0.05,"s5":0.06,"s6":0.05,"s7":0.11,"s8":0.06,"s9":0.14,"s10":0.11},
{"p":"k","x":0.5,"s1":0,"s2":0.055,"s3":0.06,"s4":0.05,"s5":0,"s6":0.05,"s7":0.11,"s8":0.24,"s9":0.19,"s10":0},
{"p":"k","x":0.75,"s1":0,"s2":0.1,"s3":0.095,"s4":0.05,"s5":0.06,"s6":0,"s7":0.11,"s8":0.24,"s9":0.14,"s10":0.12},
{"p":"k","x":1,"s1":0,"s2":0.14,"s3":0.095,"s4":0.05,"s5":0.06,"s6":0.05,"s7":0.11,"s8":0.145,"s9":0.145,"s10":0},
{"p":"k","x":1.25,"s1":0,"s2":0.17,"s3":0.095,"s4":0.05,"s5":0,"s6":0.05,"s7":0.11,"s8":0.145,"s9":0.145,"s10":0},
{"p":"k","x":1.5,"s1":0,"s2":0.055,"s3":0.095,"s4":0.05,"s5":0.06,"s6":0.05,"s7":0.11,"s8":0.145,"s9":0.145,"s10":0},
{"p":"k","x":1.75,"s1":0,"s2":0.17,"s3":0.095,"s4":0.05,"s5":0,"s6":0.1,"s7":0.11,"s8":0.145,"s9":0.145,"s10":0},
{"p":"k","x":2,"s1":0,"s2":0.11,"s3":0.095,"s4":0.05,"s5":0.06,"s6":0.1,"s7":0.11,"s8":0.145,"s9":0.145,"s10":0.06},
{"p":"k","x":2.25,"s1":0,"s2":0.11,"s3":0.095,"s4":0.05,"s5":0.06,"s6":0.1,"s7":0.11,"s8":0.145,"s9":0.145,"s10":0.06},
{"p":"k","x":2.5,"s1":0,"s2":0.11,"s3":0.095,"s4":0.05,"s5":0.06,"s6":0.1,"s7":0.11,"s8":0.145,"s9":0.145,"s10":0.06},
{"p":"k","x":2.75,"s1":0,"s2":0.11,"s3":0.095,"s4":0.05,"s5":0.06,"s6":0.05,"s7":0.11,"s8":0.145,"s9":0.145,"s10":0.06},
{"p":"k","x":3,"s1":0,"s2":0.11,"s3":0.095,"s4":0.095,"s5":0.06,"s6":0.1,"s7":0.11,"s8":0.145,"s9":0.145,"s10":0.06},
{"p":"k","x":3.25,"s1":0,"s2":0.11,"s3":0.095,"s4":0.095,"s5":0.06,"s6":0.1,"s7":0.11,"s8":0.145,"s9":0.145,"s10":0.06},
{"p":"k","x":3.5,"s1":0,"s2":0.11,"s3":0.095,"s4":0.095,"s5":0.06,"s6":0.1,"s7":0.11,"s8":0.145,"s9":0.145,"s10":0.06},
{"p":"k","x":3.75,"s1":0,"s2":0.17,"s3":0.095,"s4":0.095,"s5":0.06,"s6":0.1,"s7":0.11,"s8":0.145,"s9":0.145,"s10":0.125},
{"p":"k","x":4,"s1":0,"s2":0.17,"s3":0.095,"s4":0.095,"s5":0.06,"s6":0.1,"s7":0.11,"s8":0.145,"s9":0.145,"s10":0.125},
{"p":"k","x":4.25,"s1":0,"s2":0.17,"s3":0.095,"s4":0.095,"s5":0.06,"s6":0.1,"s7":0.11,"s8":0.145,"s9":0.145,"s10":0.125},
{"p":"k","x":4.5,"s1":0,"s2":0.17,"s3":0.095,"s4":0.095,"s5":0.06,"s6":0.1,"s7":0.11,"s8":0.145,"s9":0.145,"s10":0.125},
{"p":"k","x":4.75,"s1":0,"s2":0.17,"s3":0.095,"s4":0.095,"s5":0.06,"s6":0.1,"s7":0.11,"s8":0.145,"s9":0.145,"s10":0.125},
{"p":"k","x":5,"s1":0,"s2":0.17,"s3":0.095,"s4":0.095,"s5":0.06,"s6":0.1,"s7":0.11,"s8":0.145,"s9":0.145,"s10":0.125},
{"p":"k","x":5.25,"s1":0,"s2":0.17,"s3":0.095,"s4":0.095,"s5":0.06,"s6":0.1,"s7":0.11,"s8":0.145,"s9":0.145,"s10":0.125},
{"p":"k","x":5.5,"s1":0,"s2":0.17,"s3":0.095,"s4":0.095,"s5":0.06,"s6":0.1,"s7":0.11,"s8":0.145,"s9":0.145,"s10":0.125},
{"p":"k","x":5.75,"s1":0,"s2":0.17,"s3":0.095,"s4":0.095,"s5":0.06,"s6":0.1,"s7":0.11,"s8":0.145,"s9":0.145,"s10":0.125},
{"p":"k","x":6,"s1":0,"s2":0.17,"s3":0.095,"s4":0.095,"s5":0.06,"s6":0.1,"s7":0.11,"s8":0.145,"s9":0.145,"s10":0.125},

{"p":"l","x":0,"s1":0.045,"s2":0.16,"s3":0.07,"s4":0.05,"s5":0.09,"s6":0.07,"s7":0.045,"s8":0.16,"s9":0.065,"s10":0.08},
{"p":"l","x":0.25,"s1":0.013,"s2":0.17,"s3":0.09,"s4":0.04,"s5":0.04,"s6":0.035,"s7":0.09,"s8":0.1,"s9":0.08,"s10":0.06},
{"p":"l","x":0.5,"s1":0.013,"s2":0.065,"s3":0.035,"s4":0.035,"s5":0.03,"s6":0,"s7":0.09,"s8":0.185,"s9":0.065,"s10":0.035},
{"p":"l","x":0.75,"s1":0.013,"s2":0.065,"s3":0.067,"s4":0.035,"s5":0.035,"s6":0,"s7":0.09,"s8":0.185,"s9":0.065,"s10":0.045},
{"p":"l","x":1,"s1":0.013,"s2":0.08,"s3":0.067,"s4":0.04,"s5":0.045,"s6":0.035,"s7":0.09,"s8":0.1,"s9":0.065,"s10":0.045},
{"p":"l","x":1.25,"s1":0.013,"s2":0.105,"s3":0.067,"s4":0.04,"s5":0.035,"s6":0.035,"s7":0.14,"s8":0.1,"s9":0.065,"s10":0.01},
{"p":"l","x":1.5,"s1":0.013,"s2":0.06,"s3":0.067,"s4":0.035,"s5":0.015,"s6":0.035,"s7":0.14,"s8":0.1,"s9":0.065,"s10":0.03},
{"p":"l","x":1.75,"s1":0.013,"s2":0.1,"s3":0.067,"s4":0.035,"s5":0.035,"s6":0.08,"s7":0.12,"s8":0.1,"s9":0.065,"s10":0.005},
{"p":"l","x":2,"s1":0.013,"s2":0.07,"s3":0.067,"s4":0.035,"s5":0.035,"s6":0.06,"s7":0.14,"s8":0.1,"s9":0.065,"s10":0.005},
{"p":"l","x":2.25,"s1":0.013,"s2":0.07,"s3":0.067,"s4":0.035,"s5":0.035,"s6":0.06,"s7":0.12,"s8":0.1,"s9":0.065,"s10":0.005},
{"p":"l","x":2.5,"s1":0.013,"s2":0.07,"s3":0.067,"s4":0.035,"s5":0.035,"s6":0.06,"s7":0.08,"s8":0.1,"s9":0.065,"s10":0.045},
{"p":"l","x":2.75,"s1":0.013,"s2":0.07,"s3":0.067,"s4":0.04,"s5":0.04,"s6":0.035,"s7":0.075,"s8":0.1,"s9":0.065,"s10":0.045},
{"p":"l","x":3,"s1":0.013,"s2":0.07,"s3":0.067,"s4":0.06,"s5":0.08,"s6":0.07,"s7":0.105,"s8":0.1,"s9":0.065,"s10":0.052},
{"p":"l","x":3.25,"s1":0.013,"s2":0.07,"s3":0.067,"s4":0.06,"s5":0.08,"s6":0.07,"s7":0.105,"s8":0.1,"s9":0.065,"s10":0.052},
{"p":"l","x":3.5,"s1":0.013,"s2":0.07,"s3":0.067,"s4":0.06,"s5":0.08,"s6":0.07,"s7":0.105,"s8":0.1,"s9":0.065,"s10":0.052},
{"p":"l","x":3.75,"s1":0.013,"s2":0.105,"s3":0.067,"s4":0.06,"s5":0.08,"s6":0.07,"s7":0.105,"s8":0.1,"s9":0.09,"s10":0.052},
{"p":"l","x":4,"s1":0.013,"s2":0.105,"s3":0.067,"s4":0.06,"s5":0.08,"s6":0.07,"s7":0.105,"s8":0.1,"s9":0.09,"s10":0.052},
{"p":"l","x":4.25,"s1":0.013,"s2":0.105,"s3":0.067,"s4":0.06,"s5":0.08,"s6":0.07,"s7":0.105,"s8":0.1,"s9":0.09,"s10":0.052},
{"p":"l","x":4.5,"s1":0.013,"s2":0.105,"s3":0.067,"s4":0.06,"s5":0.08,"s6":0.07,"s7":0.105,"s8":0.1,"s9":0.09,"s10":0.052},
{"p":"l","x":4.75,"s1":0.013,"s2":0.105,"s3":0.067,"s4":0.06,"s5":0.08,"s6":0.07,"s7":0.105,"s8":0.1,"s9":0.09,"s10":0.052},
{"p":"l","x":5,"s1":0.013,"s2":0.105,"s3":0.067,"s4":0.06,"s5":0.08,"s6":0.07,"s7":0.105,"s8":0.1,"s9":0.09,"s10":0.052},
{"p":"l","x":5.25,"s1":0.013,"s2":0.105,"s3":0.067,"s4":0.06,"s5":0.08,"s6":0.07,"s7":0.105,"s8":0.1,"s9":0.09,"s10":0.052},
{"p":"l","x":5.5,"s1":0.013,"s2":0.105,"s3":0.067,"s4":0.06,"s5":0.08,"s6":0.07,"s7":0.105,"s8":0.1,"s9":0.09,"s10":0.052},
{"p":"l","x":5.75,"s1":0.013,"s2":0.105,"s3":0.067,"s4":0.06,"s5":0.08,"s6":0.07,"s7":0.105,"s8":0.1,"s9":0.09,"s10":0.052},
{"p":"l","x":6,"s1":0.013,"s2":0.105,"s3":0.067,"s4":0.06,"s5":0.08,"s6":0.07,"s7":0.105,"s8":0.1,"s9":0.09,"s10":0.052}
]},
"concat":[
{"width":164,"height":122,"data":{"name":"d"},"title":{"text":"(a)"},"layer":[
{"transform":[{"filter":"datum.p==='a'"},{"fold":["s1","s2","s3","s4","s5","s6","s7","s8","s9","s10"],"as":["s","y"]}],"mark":{"type":"line","strokeWidth":1},"encoding":{"x":{"field":"x","type":"quantitative","scale":{"domain":[0,6],"nice":false},"axis":{"values":[0,1,2,3,4,5,6],"title":"FEs"}},"y":{"field":"y","type":"quantitative","scale":{"domain":[0,0.25],"nice":false,"zero":false},"axis":{"values":[0,0.05,0.1,0.15,0.2,0.25],"format":"~g","title":"Classification Error"}},"color":{"field":"s","type":"nominal","scale":{"domain":["s1","s2","s3","s4","s5","s6","s7","s8","s9","s10"],"range":["#0072BD","#D95319","#EDB120","#7E2F8E","#77AC30","#4DBEEE","#0072BD","#D95319","#EDB120","#77AC30"]},"legend":null},"strokeDash":{"field":"s","type":"nominal","scale":{"domain":["s1","s2","s3","s4","s5","s6","s7","s8","s9","s10"],"range":[[1,0],[1,0],[1,0],[1,0],[1,0],[1,0],[4,2],[4,2],[4,2],[4,2]]},"legend":null}}},
{"transform":[{"filter":"datum.p==='a'"},{"fold":["s1","s2","s3","s4","s5","s6","s7","s8","s9","s10"],"as":["s","y"]}],"mark":{"type":"point","filled":false,"size":14,"strokeWidth":0.8,"opacity":1},"encoding":{"x":{"field":"x","type":"quantitative","axis":null},"y":{"field":"y","type":"quantitative","axis":null},"color":{"field":"s","type":"nominal","legend":null},"shape":{"field":"s","type":"nominal","scale":{"domain":["s1","s2","s3","s4","s5","s6","s7","s8","s9","s10"],"range":["M-1,0L1,0M0,-1L0,1","circle","M-1,0L1,0M0,-1L0,1M-0.7,-0.7L0.7,0.7M-0.7,0.7L0.7,-0.7","M-1,0L1,0M0,-1L0,1","triangle-down","triangle-up","M-1,0L1,0M0,-1L0,1","circle","M-1,0L1,0M0,-1L0,1M-0.7,-0.7L0.7,0.7M-0.7,0.7L0.7,-0.7","triangle-down"]},"legend":null}}},
{"data":{"values":[{"x":6,"y":0,"t":"×10⁴"}]},"mark":{"type":"text","align":"right","baseline":"middle","dy":20,"fontSize":7.5,"color":"#262626"},"encoding":{"x":{"field":"x","type":"quantitative","axis":{"orient":"top","values":[0,1,2,3,4,5,6],"title":"ALLGSE412_poterapp_TRAIN of One Run"}},"y":{"field":"y","type":"quantitative","axis":{"orient":"right","values":[0,0.05,0.1,0.15,0.2,0.25],"title":null}},"text":{"field":"t"}}}
],"resolve":{"axis":{"x":"independent","y":"independent"}}},
{"width":164,"height":122,"data":{"name":"d"},"title":{"text":"(b)"},"layer":[
{"transform":[{"filter":"datum.p==='b'"},{"fold":["s1","s2","s3","s4","s5","s6","s7","s8","s9","s10"],"as":["s","y"]}],"mark":{"type":"line","strokeWidth":1},"encoding":{"x":{"field":"x","type":"quantitative","scale":{"domain":[0,6],"nice":false},"axis":{"values":[0,1,2,3,4,5,6],"title":"FEs"}},"y":{"field":"y","type":"quantitative","scale":{"domain":[0.25,0.55],"nice":false,"zero":false},"axis":{"values":[0.25,0.3,0.35,0.4,0.45,0.5,0.55],"format":"~g","title":"Classification Error"}},"color":{"field":"s","type":"nominal","scale":{"domain":["s1","s2","s3","s4","s5","s6","s7","s8","s9","s10"],"range":["#0072BD","#D95319","#EDB120","#7E2F8E","#77AC30","#4DBEEE","#0072BD","#D95319","#EDB120","#77AC30"]},"legend":null},"strokeDash":{"field":"s","type":"nominal","scale":{"domain":["s1","s2","s3","s4","s5","s6","s7","s8","s9","s10"],"range":[[1,0],[1,0],[1,0],[1,0],[1,0],[1,0],[4,2],[4,2],[4,2],[4,2]]},"legend":null}}},
{"transform":[{"filter":"datum.p==='b'"},{"fold":["s1","s2","s3","s4","s5","s6","s7","s8","s9","s10"],"as":["s","y"]}],"mark":{"type":"point","filled":false,"size":14,"strokeWidth":0.8,"opacity":1},"encoding":{"x":{"field":"x","type":"quantitative","axis":null},"y":{"field":"y","type":"quantitative","axis":null},"color":{"field":"s","type":"nominal","legend":null},"shape":{"field":"s","type":"nominal","scale":{"domain":["s1","s2","s3","s4","s5","s6","s7","s8","s9","s10"],"range":["M-1,0L1,0M0,-1L0,1","circle","M-1,0L1,0M0,-1L0,1M-0.7,-0.7L0.7,0.7M-0.7,0.7L0.7,-0.7","M-1,0L1,0M0,-1L0,1","triangle-down","triangle-up","M-1,0L1,0M0,-1L0,1","circle","M-1,0L1,0M0,-1L0,1M-0.7,-0.7L0.7,0.7M-0.7,0.7L0.7,-0.7","triangle-down"]},"legend":null}}},
{"data":{"values":[{"x":6,"y":0.25,"t":"×10⁴"}]},"mark":{"type":"text","align":"right","baseline":"middle","dy":20,"fontSize":7.5,"color":"#262626"},"encoding":{"x":{"field":"x","type":"quantitative","axis":{"orient":"top","values":[0,1,2,3,4,5,6],"title":"ALLGSE412_poterapp_TEST of One Run"}},"y":{"field":"y","type":"quantitative","axis":{"orient":"right","values":[0.25,0.3,0.35,0.4,0.45,0.5,0.55],"title":null}},"text":{"field":"t"}}}
],"resolve":{"axis":{"x":"independent","y":"independent"}}},
{"width":164,"height":122,"data":{"name":"d"},"title":{"text":"(c)"},"layer":[
{"transform":[{"filter":"datum.p==='c'"},{"fold":["s1","s2","s3","s4","s5","s6","s7","s8","s9","s10"],"as":["s","y"]}],"mark":{"type":"line","strokeWidth":1},"encoding":{"x":{"field":"x","type":"quantitative","scale":{"domain":[0,6],"nice":false},"axis":{"values":[0,1,2,3,4,5,6],"title":"FEs"}},"y":{"field":"y","type":"quantitative","scale":{"domain":[0.2,0.45],"nice":false,"zero":false},"axis":{"values":[0.2,0.25,0.3,0.35,0.4,0.45],"format":"~g","title":"Classification Error"}},"color":{"field":"s","type":"nominal","scale":{"domain":["s1","s2","s3","s4","s5","s6","s7","s8","s9","s10"],"range":["#0072BD","#D95319","#EDB120","#7E2F8E","#77AC30","#4DBEEE","#0072BD","#D95319","#EDB120","#77AC30"]},"legend":null},"strokeDash":{"field":"s","type":"nominal","scale":{"domain":["s1","s2","s3","s4","s5","s6","s7","s8","s9","s10"],"range":[[1,0],[1,0],[1,0],[1,0],[1,0],[1,0],[4,2],[4,2],[4,2],[4,2]]},"legend":null}}},
{"transform":[{"filter":"datum.p==='c'"},{"fold":["s1","s2","s3","s4","s5","s6","s7","s8","s9","s10"],"as":["s","y"]}],"mark":{"type":"point","filled":false,"size":14,"strokeWidth":0.8,"opacity":1},"encoding":{"x":{"field":"x","type":"quantitative","axis":null},"y":{"field":"y","type":"quantitative","axis":null},"color":{"field":"s","type":"nominal","legend":null},"shape":{"field":"s","type":"nominal","scale":{"domain":["s1","s2","s3","s4","s5","s6","s7","s8","s9","s10"],"range":["M-1,0L1,0M0,-1L0,1","circle","M-1,0L1,0M0,-1L0,1M-0.7,-0.7L0.7,0.7M-0.7,0.7L0.7,-0.7","M-1,0L1,0M0,-1L0,1","triangle-down","triangle-up","M-1,0L1,0M0,-1L0,1","circle","M-1,0L1,0M0,-1L0,1M-0.7,-0.7L0.7,0.7M-0.7,0.7L0.7,-0.7","triangle-down"]},"legend":null}}},
{"data":{"values":[{"x":6,"y":0.2,"t":"×10⁴"}]},"mark":{"type":"text","align":"right","baseline":"middle","dy":20,"fontSize":7.5,"color":"#262626"},"encoding":{"x":{"field":"x","type":"quantitative","axis":{"orient":"top","values":[0,1,2,3,4,5,6],"title":"ALLGSE412_poterapp_FINAL of One Run"}},"y":{"field":"y","type":"quantitative","axis":{"orient":"right","values":[0.2,0.25,0.3,0.35,0.4,0.45],"title":null}},"text":{"field":"t"}}}
],"resolve":{"axis":{"x":"independent","y":"independent"}}},
{"width":164,"height":122,"data":{"name":"d"},"title":{"text":"(d)"},"layer":[
{"transform":[{"filter":"datum.p==='d'"},{"fold":["s1","s2","s3","s4","s5","s6","s7","s8","s9","s10"],"as":["s","y"]}],"mark":{"type":"line","strokeWidth":1},"encoding":{"x":{"field":"x","type":"quantitative","scale":{"domain":[0,6],"nice":false},"axis":{"values":[0,1,2,3,4,5,6],"title":"FEs"}},"y":{"field":"y","type":"quantitative","scale":{"domain":[0,0.08],"nice":false,"zero":false},"axis":{"values":[0,0.02,0.04,0.06,0.08],"format":"~g","title":"Classification Error"}},"color":{"field":"s","type":"nominal","scale":{"domain":["s1","s2","s3","s4","s5","s6","s7","s8","s9","s10"],"range":["#0072BD","#D95319","#EDB120","#7E2F8E","#77AC30","#4DBEEE","#0072BD","#D95319","#EDB120","#77AC30"]},"legend":null},"strokeDash":{"field":"s","type":"nominal","scale":{"domain":["s1","s2","s3","s4","s5","s6","s7","s8","s9","s10"],"range":[[1,0],[1,0],[1,0],[1,0],[1,0],[1,0],[4,2],[4,2],[4,2],[4,2]]},"legend":null}}},
{"transform":[{"filter":"datum.p==='d'"},{"fold":["s1","s2","s3","s4","s5","s6","s7","s8","s9","s10"],"as":["s","y"]}],"mark":{"type":"point","filled":false,"size":14,"strokeWidth":0.8,"opacity":1},"encoding":{"x":{"field":"x","type":"quantitative","axis":null},"y":{"field":"y","type":"quantitative","axis":null},"color":{"field":"s","type":"nominal","legend":null},"shape":{"field":"s","type":"nominal","scale":{"domain":["s1","s2","s3","s4","s5","s6","s7","s8","s9","s10"],"range":["M-1,0L1,0M0,-1L0,1","circle","M-1,0L1,0M0,-1L0,1M-0.7,-0.7L0.7,0.7M-0.7,0.7L0.7,-0.7","M-1,0L1,0M0,-1L0,1","triangle-down","triangle-up","M-1,0L1,0M0,-1L0,1","circle","M-1,0L1,0M0,-1L0,1M-0.7,-0.7L0.7,0.7M-0.7,0.7L0.7,-0.7","triangle-down"]},"legend":null}}},
{"data":{"values":[{"x":6,"y":0,"t":"×10⁴"}]},"mark":{"type":"text","align":"right","baseline":"middle","dy":20,"fontSize":7.5,"color":"#262626"},"encoding":{"x":{"field":"x","type":"quantitative","axis":{"orient":"top","values":[0,1,2,3,4,5,6],"title":"ALLGSE412_pred_poTh_TRAIN of One Run"}},"y":{"field":"y","type":"quantitative","axis":{"orient":"right","values":[0,0.02,0.04,0.06,0.08],"title":null}},"text":{"field":"t"}}}
],"resolve":{"axis":{"x":"independent","y":"independent"}}},
{"width":164,"height":122,"data":{"name":"d"},"title":{"text":"(e)"},"layer":[
{"transform":[{"filter":"datum.p==='e'"},{"fold":["s1","s2","s3","s4","s5","s6","s7","s8","s9","s10"],"as":["s","y"]}],"mark":{"type":"line","strokeWidth":1},"encoding":{"x":{"field":"x","type":"quantitative","scale":{"domain":[0,6],"nice":false},"axis":{"values":[0,1,2,3,4,5,6],"title":"FEs"}},"y":{"field":"y","type":"quantitative","scale":{"domain":[0,0.3],"nice":false,"zero":false},"axis":{"values":[0,0.05,0.1,0.15,0.2,0.25,0.3],"format":"~g","title":"Classification Error"}},"color":{"field":"s","type":"nominal","scale":{"domain":["s1","s2","s3","s4","s5","s6","s7","s8","s9","s10"],"range":["#0072BD","#D95319","#EDB120","#7E2F8E","#77AC30","#4DBEEE","#0072BD","#D95319","#EDB120","#77AC30"]},"legend":null},"strokeDash":{"field":"s","type":"nominal","scale":{"domain":["s1","s2","s3","s4","s5","s6","s7","s8","s9","s10"],"range":[[1,0],[1,0],[1,0],[1,0],[1,0],[1,0],[4,2],[4,2],[4,2],[4,2]]},"legend":null}}},
{"transform":[{"filter":"datum.p==='e'"},{"fold":["s1","s2","s3","s4","s5","s6","s7","s8","s9","s10"],"as":["s","y"]}],"mark":{"type":"point","filled":false,"size":14,"strokeWidth":0.8,"opacity":1},"encoding":{"x":{"field":"x","type":"quantitative","axis":null},"y":{"field":"y","type":"quantitative","axis":null},"color":{"field":"s","type":"nominal","legend":null},"shape":{"field":"s","type":"nominal","scale":{"domain":["s1","s2","s3","s4","s5","s6","s7","s8","s9","s10"],"range":["M-1,0L1,0M0,-1L0,1","circle","M-1,0L1,0M0,-1L0,1M-0.7,-0.7L0.7,0.7M-0.7,0.7L0.7,-0.7","M-1,0L1,0M0,-1L0,1","triangle-down","triangle-up","M-1,0L1,0M0,-1L0,1","circle","M-1,0L1,0M0,-1L0,1M-0.7,-0.7L0.7,0.7M-0.7,0.7L0.7,-0.7","triangle-down"]},"legend":null}}},
{"data":{"values":[{"x":6,"y":0,"t":"×10⁴"}]},"mark":{"type":"text","align":"right","baseline":"middle","dy":20,"fontSize":7.5,"color":"#262626"},"encoding":{"x":{"field":"x","type":"quantitative","axis":{"orient":"top","values":[0,1,2,3,4,5,6],"title":"ALLGSE412_pred_poTh_TEST of One Run"}},"y":{"field":"y","type":"quantitative","axis":{"orient":"right","values":[0,0.05,0.1,0.15,0.2,0.25,0.3],"title":null}},"text":{"field":"t"}}}
],"resolve":{"axis":{"x":"independent","y":"independent"}}},
{"width":164,"height":122,"data":{"name":"d"},"title":{"text":"(f)"},"layer":[
{"transform":[{"filter":"datum.p==='f'"},{"fold":["s1","s2","s3","s4","s5","s6","s7","s8","s9","s10"],"as":["s","y"]}],"mark":{"type":"line","strokeWidth":1},"encoding":{"x":{"field":"x","type":"quantitative","scale":{"domain":[0,6],"nice":false},"axis":{"values":[0,1,2,3,4,5,6],"title":"FEs"}},"y":{"field":"y","type":"quantitative","scale":{"domain":[0,0.25],"nice":false,"zero":false},"axis":{"values":[0,0.05,0.1,0.15,0.2,0.25],"format":"~g","title":"Classification Error"}},"color":{"field":"s","type":"nominal","scale":{"domain":["s1","s2","s3","s4","s5","s6","s7","s8","s9","s10"],"range":["#0072BD","#D95319","#EDB120","#7E2F8E","#77AC30","#4DBEEE","#0072BD","#D95319","#EDB120","#77AC30"]},"legend":null},"strokeDash":{"field":"s","type":"nominal","scale":{"domain":["s1","s2","s3","s4","s5","s6","s7","s8","s9","s10"],"range":[[1,0],[1,0],[1,0],[1,0],[1,0],[1,0],[4,2],[4,2],[4,2],[4,2]]},"legend":null}}},
{"transform":[{"filter":"datum.p==='f'"},{"fold":["s1","s2","s3","s4","s5","s6","s7","s8","s9","s10"],"as":["s","y"]}],"mark":{"type":"point","filled":false,"size":14,"strokeWidth":0.8,"opacity":1},"encoding":{"x":{"field":"x","type":"quantitative","axis":null},"y":{"field":"y","type":"quantitative","axis":null},"color":{"field":"s","type":"nominal","legend":null},"shape":{"field":"s","type":"nominal","scale":{"domain":["s1","s2","s3","s4","s5","s6","s7","s8","s9","s10"],"range":["M-1,0L1,0M0,-1L0,1","circle","M-1,0L1,0M0,-1L0,1M-0.7,-0.7L0.7,0.7M-0.7,0.7L0.7,-0.7","M-1,0L1,0M0,-1L0,1","triangle-down","triangle-up","M-1,0L1,0M0,-1L0,1","circle","M-1,0L1,0M0,-1L0,1M-0.7,-0.7L0.7,0.7M-0.7,0.7L0.7,-0.7","triangle-down"]},"legend":null}}},
{"data":{"values":[{"x":6,"y":0,"t":"×10⁴"}]},"mark":{"type":"text","align":"right","baseline":"middle","dy":20,"fontSize":7.5,"color":"#262626"},"encoding":{"x":{"field":"x","type":"quantitative","axis":{"orient":"top","values":[0,1,2,3,4,5,6],"title":"ALLGSE412_pred_poTh_FINAL of One Run"}},"y":{"field":"y","type":"quantitative","axis":{"orient":"right","values":[0,0.05,0.1,0.15,0.2,0.25],"title":null}},"text":{"field":"t"}}}
],"resolve":{"axis":{"x":"independent","y":"independent"}}},
{"width":164,"height":122,"data":{"name":"d"},"title":{"text":"(g)"},"layer":[
{"transform":[{"filter":"datum.p==='g'"},{"fold":["s1","s2","s3","s4","s5","s6","s7","s8","s9","s10"],"as":["s","y"]}],"mark":{"type":"line","strokeWidth":1},"encoding":{"x":{"field":"x","type":"quantitative","scale":{"domain":[0,6],"nice":false},"axis":{"values":[0,1,2,3,4,5,6],"title":"FEs"}},"y":{"field":"y","type":"quantitative","scale":{"domain":[0,0.15],"nice":false,"zero":false},"axis":{"values":[0,0.05,0.1,0.15],"format":"~g","title":"Classification Error"}},"color":{"field":"s","type":"nominal","scale":{"domain":["s1","s2","s3","s4","s5","s6","s7","s8","s9","s10"],"range":["#0072BD","#D95319","#EDB120","#7E2F8E","#77AC30","#4DBEEE","#0072BD","#D95319","#EDB120","#77AC30"]},"legend":null},"strokeDash":{"field":"s","type":"nominal","scale":{"domain":["s1","s2","s3","s4","s5","s6","s7","s8","s9","s10"],"range":[[1,0],[1,0],[1,0],[1,0],[1,0],[1,0],[4,2],[4,2],[4,2],[4,2]]},"legend":null}}},
{"transform":[{"filter":"datum.p==='g'"},{"fold":["s1","s2","s3","s4","s5","s6","s7","s8","s9","s10"],"as":["s","y"]}],"mark":{"type":"point","filled":false,"size":14,"strokeWidth":0.8,"opacity":1},"encoding":{"x":{"field":"x","type":"quantitative","axis":null},"y":{"field":"y","type":"quantitative","axis":null},"color":{"field":"s","type":"nominal","legend":null},"shape":{"field":"s","type":"nominal","scale":{"domain":["s1","s2","s3","s4","s5","s6","s7","s8","s9","s10"],"range":["M-1,0L1,0M0,-1L0,1","circle","M-1,0L1,0M0,-1L0,1M-0.7,-0.7L0.7,0.7M-0.7,0.7L0.7,-0.7","M-1,0L1,0M0,-1L0,1","triangle-down","triangle-up","M-1,0L1,0M0,-1L0,1","circle","M-1,0L1,0M0,-1L0,1M-0.7,-0.7L0.7,0.7M-0.7,0.7L0.7,-0.7","triangle-down"]},"legend":null}}},
{"data":{"values":[{"x":6,"y":0,"t":"×10⁴"}]},"mark":{"type":"text","align":"right","baseline":"middle","dy":20,"fontSize":7.5,"color":"#262626"},"encoding":{"x":{"field":"x","type":"quantitative","axis":{"orient":"top","values":[0,1,2,3,4,5,6],"title":"AMLGSE2191_TRAIN of One Run"}},"y":{"field":"y","type":"quantitative","axis":{"orient":"right","values":[0,0.05,0.1,0.15],"title":null}},"text":{"field":"t"}}}
],"resolve":{"axis":{"x":"independent","y":"independent"}}},
{"width":164,"height":122,"data":{"name":"d"},"title":{"text":"(h)"},"layer":[
{"transform":[{"filter":"datum.p==='h'"},{"fold":["s1","s2","s3","s4","s5","s6","s7","s8","s9","s10"],"as":["s","y"]}],"mark":{"type":"line","strokeWidth":1},"encoding":{"x":{"field":"x","type":"quantitative","scale":{"domain":[0,6],"nice":false},"axis":{"values":[0,1,2,3,4,5,6],"title":"FEs"}},"y":{"field":"y","type":"quantitative","scale":{"domain":[0,0.5],"nice":false,"zero":false},"axis":{"values":[0,0.1,0.2,0.3,0.4,0.5],"format":"~g","title":"Classification Error"}},"color":{"field":"s","type":"nominal","scale":{"domain":["s1","s2","s3","s4","s5","s6","s7","s8","s9","s10"],"range":["#0072BD","#D95319","#EDB120","#7E2F8E","#77AC30","#4DBEEE","#0072BD","#D95319","#EDB120","#77AC30"]},"legend":null},"strokeDash":{"field":"s","type":"nominal","scale":{"domain":["s1","s2","s3","s4","s5","s6","s7","s8","s9","s10"],"range":[[1,0],[1,0],[1,0],[1,0],[1,0],[1,0],[4,2],[4,2],[4,2],[4,2]]},"legend":null}}},
{"transform":[{"filter":"datum.p==='h'"},{"fold":["s1","s2","s3","s4","s5","s6","s7","s8","s9","s10"],"as":["s","y"]}],"mark":{"type":"point","filled":false,"size":14,"strokeWidth":0.8,"opacity":1},"encoding":{"x":{"field":"x","type":"quantitative","axis":null},"y":{"field":"y","type":"quantitative","axis":null},"color":{"field":"s","type":"nominal","legend":null},"shape":{"field":"s","type":"nominal","scale":{"domain":["s1","s2","s3","s4","s5","s6","s7","s8","s9","s10"],"range":["M-1,0L1,0M0,-1L0,1","circle","M-1,0L1,0M0,-1L0,1M-0.7,-0.7L0.7,0.7M-0.7,0.7L0.7,-0.7","M-1,0L1,0M0,-1L0,1","triangle-down","triangle-up","M-1,0L1,0M0,-1L0,1","circle","M-1,0L1,0M0,-1L0,1M-0.7,-0.7L0.7,0.7M-0.7,0.7L0.7,-0.7","triangle-down"]},"legend":null}}},
{"data":{"values":[{"x":6,"y":0,"t":"×10⁴"}]},"mark":{"type":"text","align":"right","baseline":"middle","dy":20,"fontSize":7.5,"color":"#262626"},"encoding":{"x":{"field":"x","type":"quantitative","axis":{"orient":"top","values":[0,1,2,3,4,5,6],"title":"AMLGSE2191_TEST of One Run"}},"y":{"field":"y","type":"quantitative","axis":{"orient":"right","values":[0,0.1,0.2,0.3,0.4,0.5],"title":null}},"text":{"field":"t"}}}
],"resolve":{"axis":{"x":"independent","y":"independent"}}},
{"width":164,"height":122,"data":{"name":"d"},"title":{"text":"(i)"},"layer":[
{"transform":[{"filter":"datum.p==='i'"},{"fold":["s1","s2","s3","s4","s5","s6","s7","s8","s9","s10"],"as":["s","y"]}],"mark":{"type":"line","strokeWidth":1},"encoding":{"x":{"field":"x","type":"quantitative","scale":{"domain":[0,6],"nice":false},"axis":{"values":[0,1,2,3,4,5,6],"title":"FEs"}},"y":{"field":"y","type":"quantitative","scale":{"domain":[0.05,0.35],"nice":false,"zero":false},"axis":{"values":[0.05,0.1,0.15,0.2,0.25,0.3,0.35],"format":"~g","title":"Classification Error"}},"color":{"field":"s","type":"nominal","scale":{"domain":["s1","s2","s3","s4","s5","s6","s7","s8","s9","s10"],"range":["#0072BD","#D95319","#EDB120","#7E2F8E","#77AC30","#4DBEEE","#0072BD","#D95319","#EDB120","#77AC30"]},"legend":null},"strokeDash":{"field":"s","type":"nominal","scale":{"domain":["s1","s2","s3","s4","s5","s6","s7","s8","s9","s10"],"range":[[1,0],[1,0],[1,0],[1,0],[1,0],[1,0],[4,2],[4,2],[4,2],[4,2]]},"legend":null}}},
{"transform":[{"filter":"datum.p==='i'"},{"fold":["s1","s2","s3","s4","s5","s6","s7","s8","s9","s10"],"as":["s","y"]}],"mark":{"type":"point","filled":false,"size":14,"strokeWidth":0.8,"opacity":1},"encoding":{"x":{"field":"x","type":"quantitative","axis":null},"y":{"field":"y","type":"quantitative","axis":null},"color":{"field":"s","type":"nominal","legend":null},"shape":{"field":"s","type":"nominal","scale":{"domain":["s1","s2","s3","s4","s5","s6","s7","s8","s9","s10"],"range":["M-1,0L1,0M0,-1L0,1","circle","M-1,0L1,0M0,-1L0,1M-0.7,-0.7L0.7,0.7M-0.7,0.7L0.7,-0.7","M-1,0L1,0M0,-1L0,1","triangle-down","triangle-up","M-1,0L1,0M0,-1L0,1","circle","M-1,0L1,0M0,-1L0,1M-0.7,-0.7L0.7,0.7M-0.7,0.7L0.7,-0.7","triangle-down"]},"legend":null}}},
{"data":{"values":[{"x":6,"y":0.05,"t":"×10⁴"}]},"mark":{"type":"text","align":"right","baseline":"middle","dy":20,"fontSize":7.5,"color":"#262626"},"encoding":{"x":{"field":"x","type":"quantitative","axis":{"orient":"top","values":[0,1,2,3,4,5,6],"title":"AMLGSE2191_FINAL of One Run"}},"y":{"field":"y","type":"quantitative","axis":{"orient":"right","values":[0.05,0.1,0.15,0.2,0.25,0.3,0.35],"title":null}},"text":{"field":"t"}}}
],"resolve":{"axis":{"x":"independent","y":"independent"}}},
{"width":164,"height":122,"data":{"name":"d"},"title":{"text":"(j)"},"layer":[
{"transform":[{"filter":"datum.p==='j'"},{"fold":["s1","s2","s3","s4","s5","s6","s7","s8","s9","s10"],"as":["s","y"]}],"mark":{"type":"line","strokeWidth":1},"encoding":{"x":{"field":"x","type":"quantitative","scale":{"domain":[0,6],"nice":false},"axis":{"values":[0,1,2,3,4,5,6],"title":"FEs"}},"y":{"field":"y","type":"quantitative","scale":{"domain":[0,0.04],"nice":false,"zero":false},"axis":{"values":[0,0.01,0.02,0.03,0.04],"format":"~g","title":"Classification Error"}},"color":{"field":"s","type":"nominal","scale":{"domain":["s1","s2","s3","s4","s5","s6","s7","s8","s9","s10"],"range":["#0072BD","#D95319","#EDB120","#7E2F8E","#77AC30","#4DBEEE","#0072BD","#D95319","#EDB120","#77AC30"]},"legend":null},"strokeDash":{"field":"s","type":"nominal","scale":{"domain":["s1","s2","s3","s4","s5","s6","s7","s8","s9","s10"],"range":[[1,0],[1,0],[1,0],[1,0],[1,0],[1,0],[4,2],[4,2],[4,2],[4,2]]},"legend":null}}},
{"transform":[{"filter":"datum.p==='j'"},{"fold":["s1","s2","s3","s4","s5","s6","s7","s8","s9","s10"],"as":["s","y"]}],"mark":{"type":"point","filled":false,"size":14,"strokeWidth":0.8,"opacity":1},"encoding":{"x":{"field":"x","type":"quantitative","axis":null},"y":{"field":"y","type":"quantitative","axis":null},"color":{"field":"s","type":"nominal","legend":null},"shape":{"field":"s","type":"nominal","scale":{"domain":["s1","s2","s3","s4","s5","s6","s7","s8","s9","s10"],"range":["M-1,0L1,0M0,-1L0,1","circle","M-1,0L1,0M0,-1L0,1M-0.7,-0.7L0.7,0.7M-0.7,0.7L0.7,-0.7","M-1,0L1,0M0,-1L0,1","triangle-down","triangle-up","M-1,0L1,0M0,-1L0,1","circle","M-1,0L1,0M0,-1L0,1M-0.7,-0.7L0.7,0.7M-0.7,0.7L0.7,-0.7","triangle-down"]},"legend":null}}},
{"data":{"values":[{"x":6,"y":0,"t":"×10⁴"}]},"mark":{"type":"text","align":"right","baseline":"middle","dy":20,"fontSize":7.5,"color":"#262626"},"encoding":{"x":{"field":"x","type":"quantitative","axis":{"orient":"top","values":[0,1,2,3,4,5,6],"title":"BC_CCGSE3726_frozen_TRAIN of One Run"}},"y":{"field":"y","type":"quantitative","axis":{"orient":"right","values":[0,0.01,0.02,0.03,0.04],"title":null}},"text":{"field":"t"}}}
],"resolve":{"axis":{"x":"independent","y":"independent"}}},
{"width":164,"height":122,"data":{"name":"d"},"title":{"text":"(k)"},"layer":[
{"transform":[{"filter":"datum.p==='k'"},{"fold":["s1","s2","s3","s4","s5","s6","s7","s8","s9","s10"],"as":["s","y"]}],"mark":{"type":"line","strokeWidth":1},"encoding":{"x":{"field":"x","type":"quantitative","scale":{"domain":[0,6],"nice":false},"axis":{"values":[0,1,2,3,4,5,6],"title":"FEs"}},"y":{"field":"y","type":"quantitative","scale":{"domain":[0,0.25],"nice":false,"zero":false},"axis":{"values":[0,0.05,0.1,0.15,0.2,0.25],"format":"~g","title":"Classification Error"}},"color":{"field":"s","type":"nominal","scale":{"domain":["s1","s2","s3","s4","s5","s6","s7","s8","s9","s10"],"range":["#0072BD","#D95319","#EDB120","#7E2F8E","#77AC30","#4DBEEE","#0072BD","#D95319","#EDB120","#77AC30"]},"legend":null},"strokeDash":{"field":"s","type":"nominal","scale":{"domain":["s1","s2","s3","s4","s5","s6","s7","s8","s9","s10"],"range":[[1,0],[1,0],[1,0],[1,0],[1,0],[1,0],[4,2],[4,2],[4,2],[4,2]]},"legend":null}}},
{"transform":[{"filter":"datum.p==='k'"},{"fold":["s1","s2","s3","s4","s5","s6","s7","s8","s9","s10"],"as":["s","y"]}],"mark":{"type":"point","filled":false,"size":14,"strokeWidth":0.8,"opacity":1},"encoding":{"x":{"field":"x","type":"quantitative","axis":null},"y":{"field":"y","type":"quantitative","axis":null},"color":{"field":"s","type":"nominal","legend":null},"shape":{"field":"s","type":"nominal","scale":{"domain":["s1","s2","s3","s4","s5","s6","s7","s8","s9","s10"],"range":["M-1,0L1,0M0,-1L0,1","circle","M-1,0L1,0M0,-1L0,1M-0.7,-0.7L0.7,0.7M-0.7,0.7L0.7,-0.7","M-1,0L1,0M0,-1L0,1","triangle-down","triangle-up","M-1,0L1,0M0,-1L0,1","circle","M-1,0L1,0M0,-1L0,1M-0.7,-0.7L0.7,0.7M-0.7,0.7L0.7,-0.7","triangle-down"]},"legend":null}}},
{"data":{"values":[{"x":6,"y":0,"t":"×10⁴"}]},"mark":{"type":"text","align":"right","baseline":"middle","dy":20,"fontSize":7.5,"color":"#262626"},"encoding":{"x":{"field":"x","type":"quantitative","axis":{"orient":"top","values":[0,1,2,3,4,5,6],"title":"BC_CCGSE3726_frozen_TEST of One Run"}},"y":{"field":"y","type":"quantitative","axis":{"orient":"right","values":[0,0.05,0.1,0.15,0.2,0.25],"title":null}},"text":{"field":"t"}}}
],"resolve":{"axis":{"x":"independent","y":"independent"}}},
{"width":164,"height":122,"data":{"name":"d"},"title":{"text":"(l)"},"layer":[
{"transform":[{"filter":"datum.p==='l'"},{"fold":["s1","s2","s3","s4","s5","s6","s7","s8","s9","s10"],"as":["s","y"]}],"mark":{"type":"line","strokeWidth":1},"encoding":{"x":{"field":"x","type":"quantitative","scale":{"domain":[0,6],"nice":false},"axis":{"values":[0,1,2,3,4,5,6],"title":"FEs"}},"y":{"field":"y","type":"quantitative","scale":{"domain":[0,0.2],"nice":false,"zero":false},"axis":{"values":[0,0.05,0.1,0.15,0.2],"format":"~g","title":"Classification Error"}},"color":{"field":"s","type":"nominal","scale":{"domain":["s1","s2","s3","s4","s5","s6","s7","s8","s9","s10"],"range":["#0072BD","#D95319","#EDB120","#7E2F8E","#77AC30","#4DBEEE","#0072BD","#D95319","#EDB120","#77AC30"]},"legend":null},"strokeDash":{"field":"s","type":"nominal","scale":{"domain":["s1","s2","s3","s4","s5","s6","s7","s8","s9","s10"],"range":[[1,0],[1,0],[1,0],[1,0],[1,0],[1,0],[4,2],[4,2],[4,2],[4,2]]},"legend":null}}},
{"transform":[{"filter":"datum.p==='l'"},{"fold":["s1","s2","s3","s4","s5","s6","s7","s8","s9","s10"],"as":["s","y"]}],"mark":{"type":"point","filled":false,"size":14,"strokeWidth":0.8,"opacity":1},"encoding":{"x":{"field":"x","type":"quantitative","axis":null},"y":{"field":"y","type":"quantitative","axis":null},"color":{"field":"s","type":"nominal","legend":null},"shape":{"field":"s","type":"nominal","scale":{"domain":["s1","s2","s3","s4","s5","s6","s7","s8","s9","s10"],"range":["M-1,0L1,0M0,-1L0,1","circle","M-1,0L1,0M0,-1L0,1M-0.7,-0.7L0.7,0.7M-0.7,0.7L0.7,-0.7","M-1,0L1,0M0,-1L0,1","triangle-down","triangle-up","M-1,0L1,0M0,-1L0,1","circle","M-1,0L1,0M0,-1L0,1M-0.7,-0.7L0.7,0.7M-0.7,0.7L0.7,-0.7","triangle-down"]},"legend":null}}},
{"data":{"values":[{"x":6,"y":0,"t":"×10⁴"}]},"mark":{"type":"text","align":"right","baseline":"middle","dy":20,"fontSize":7.5,"color":"#262626"},"encoding":{"x":{"field":"x","type":"quantitative","axis":{"orient":"top","values":[0,1,2,3,4,5,6],"title":"BC_CCGSE3726_frozen_FINAL of One Run"}},"y":{"field":"y","type":"quantitative","axis":{"orient":"right","values":[0,0.05,0.1,0.15,0.2],"title":null}},"text":{"field":"t"}}}
],"resolve":{"axis":{"x":"independent","y":"independent"}}}
]
}
